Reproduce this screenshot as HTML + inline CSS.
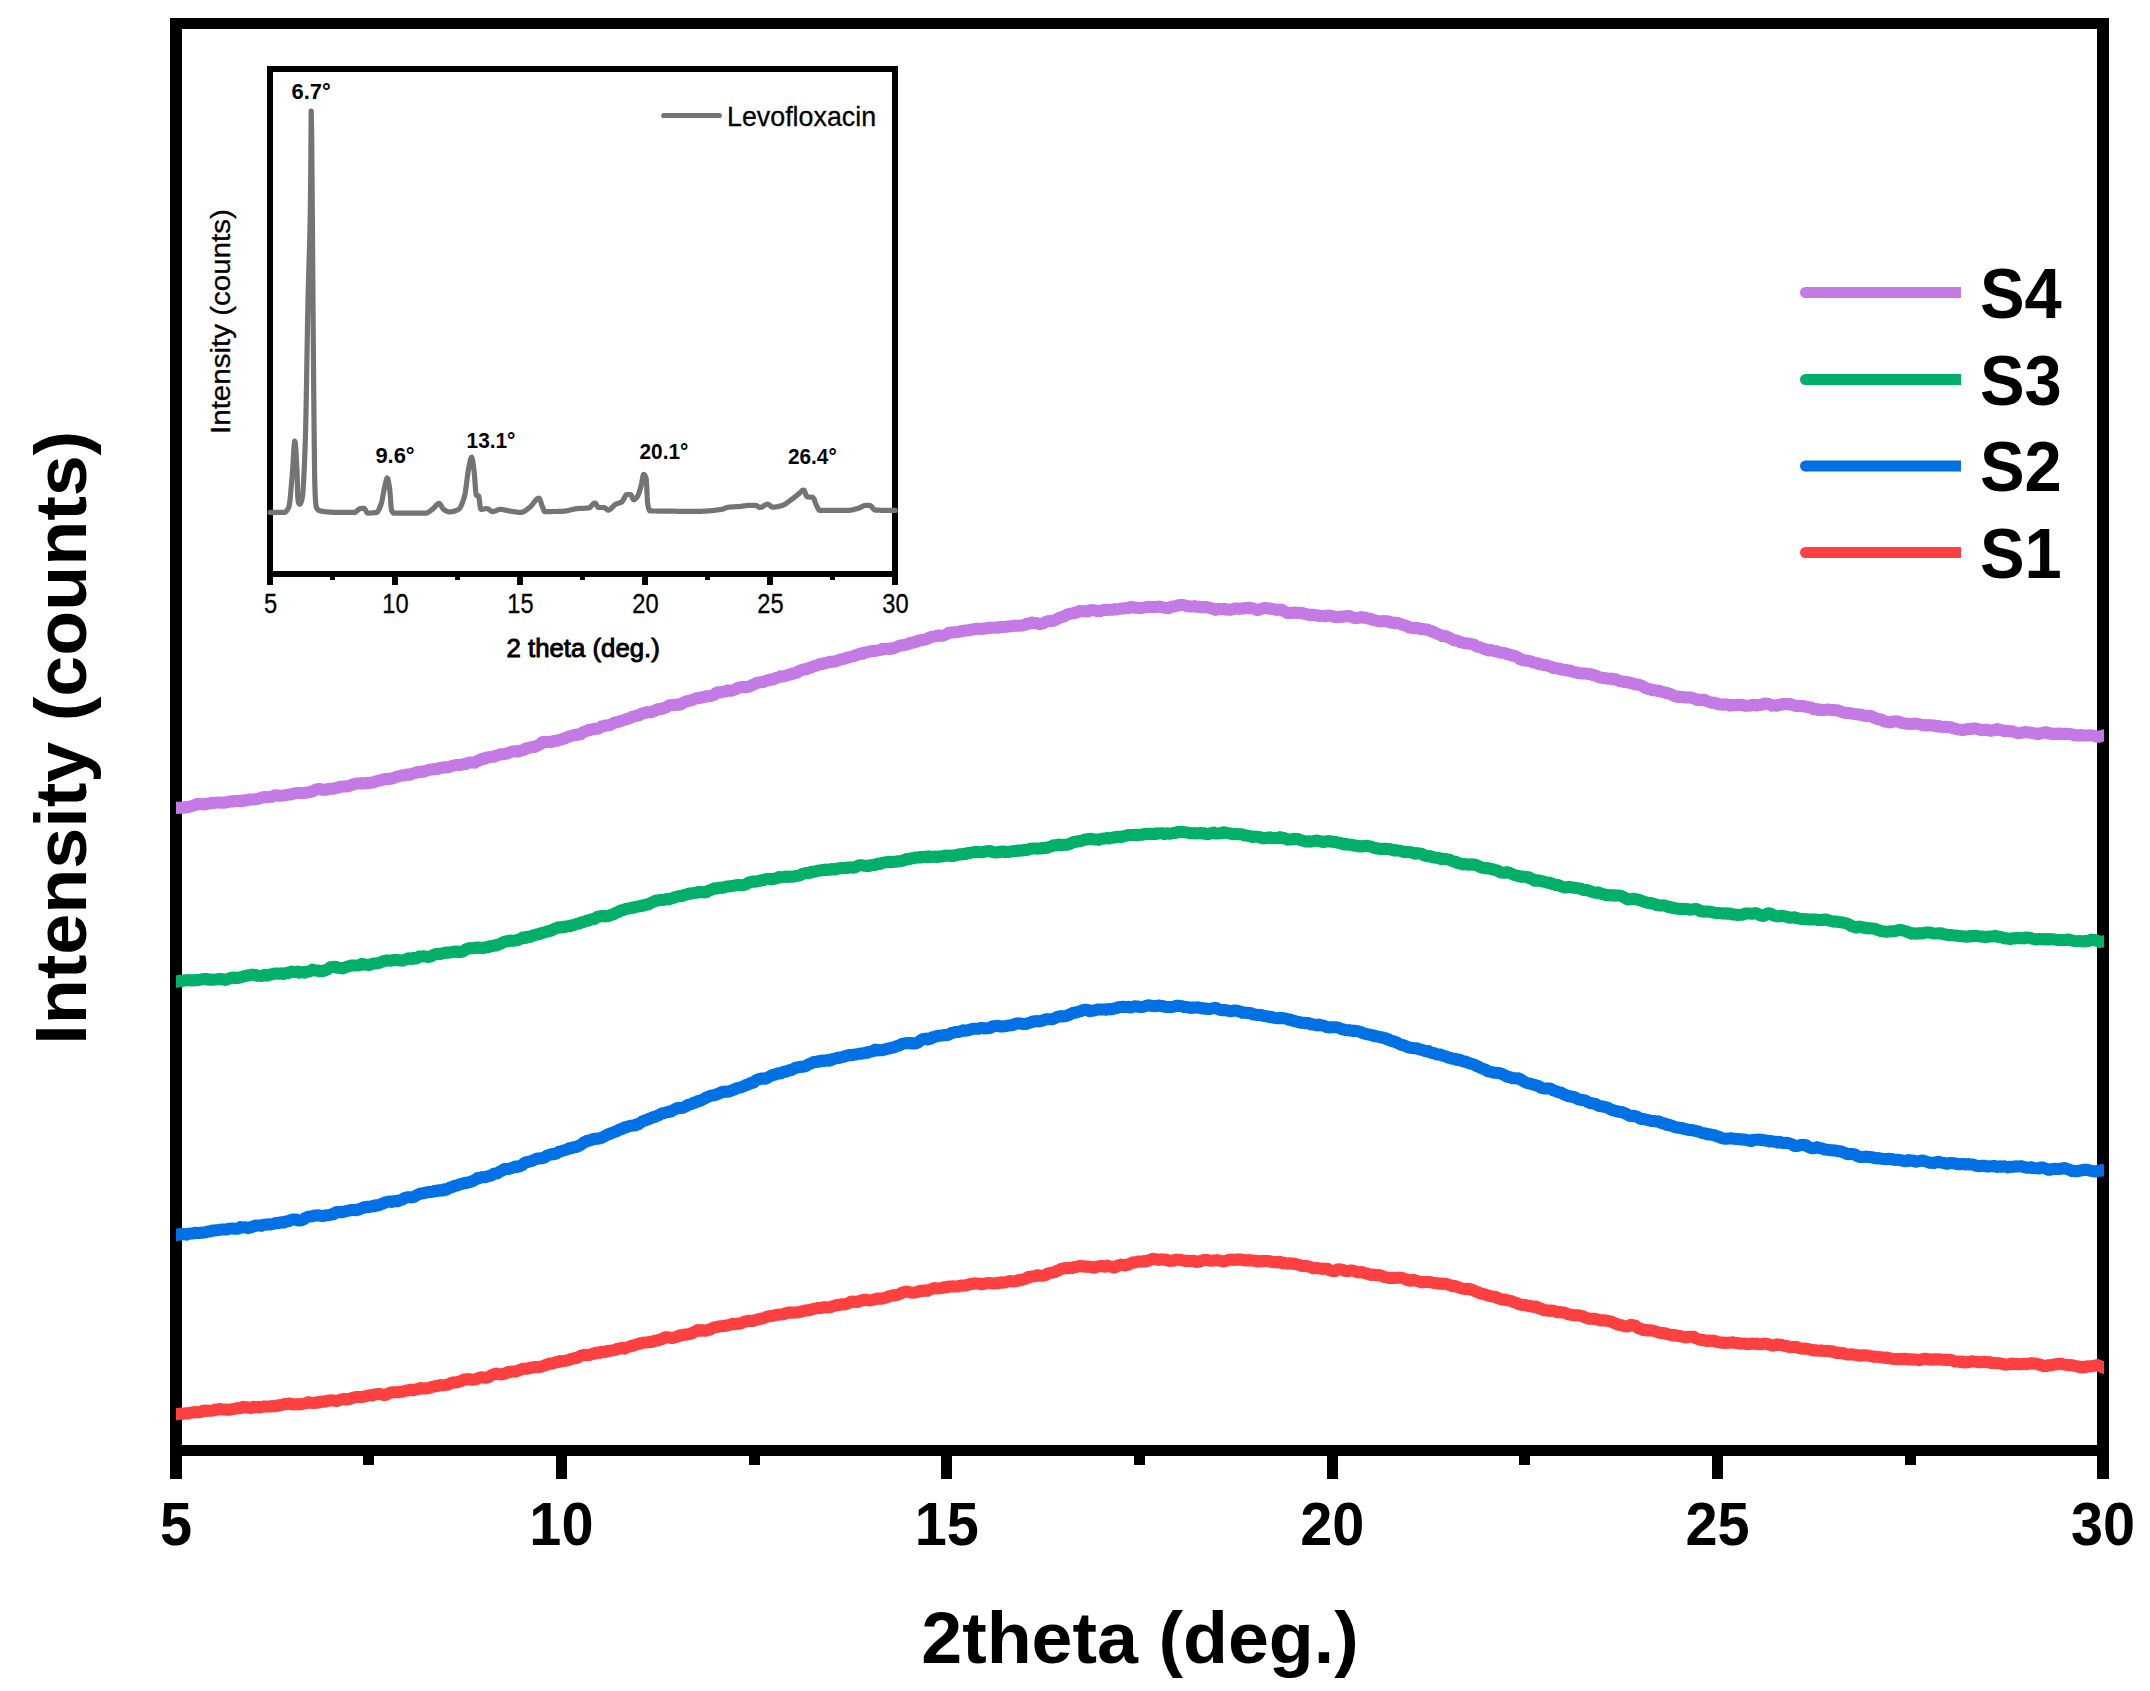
<!DOCTYPE html>
<html lang="en"><head><meta charset="utf-8"><title>XRD patterns</title>
<style>
html,body{margin:0;padding:0;background:#fff;}
body{width:2150px;height:1691px;overflow:hidden;}
svg{display:block;font-family:"Liberation Sans",sans-serif;fill:#000;}
</style></head><body>
<svg width="2150" height="1691" viewBox="0 0 2150 1691">
<rect x="0" y="0" width="2150" height="1691" fill="#fff"/>
<g shape-rendering="crispEdges">
<rect x="170" y="18" width="12" height="1461" fill="#000"/>
<rect x="2097" y="18" width="12" height="1461" fill="#000"/>
<rect x="170" y="18" width="1939" height="11" fill="#000"/>
<rect x="170" y="1445" width="1939" height="11" fill="#000"/>
<rect x="556" y="1456" width="11" height="23" fill="#000"/>
<rect x="941" y="1456" width="11" height="23" fill="#000"/>
<rect x="1327" y="1456" width="11" height="23" fill="#000"/>
<rect x="1712" y="1456" width="11" height="23" fill="#000"/>
<rect x="363" y="1456" width="11" height="9" fill="#000"/>
<rect x="749" y="1456" width="11" height="9" fill="#000"/>
<rect x="1134" y="1456" width="11" height="9" fill="#000"/>
<rect x="1519" y="1456" width="11" height="9" fill="#000"/>
<rect x="1905" y="1456" width="11" height="9" fill="#000"/>
<rect x="267" y="66" width="6" height="519" fill="#000"/>
<rect x="892" y="66" width="6" height="519" fill="#000"/>
<rect x="267" y="66" width="631" height="6" fill="#000"/>
<rect x="267" y="571" width="631" height="6" fill="#000"/>
<rect x="392" y="577" width="6" height="8" fill="#000"/>
<rect x="517" y="577" width="6" height="8" fill="#000"/>
<rect x="642" y="577" width="6" height="8" fill="#000"/>
<rect x="767" y="577" width="6" height="8" fill="#000"/>
<rect x="330" y="577" width="5" height="3" fill="#000"/>
<rect x="455" y="577" width="5" height="3" fill="#000"/>
<rect x="580" y="577" width="5" height="3" fill="#000"/>
<rect x="705" y="577" width="5" height="3" fill="#000"/>
<rect x="830" y="577" width="5" height="3" fill="#000"/>
</g>
<defs><clipPath id="cp"><rect x="176" y="500" width="1928" height="1000"/></clipPath></defs>
<g clip-path="url(#cp)">
<polyline points="170.0,808.3 171.5,808.1 173.0,807.9 174.5,807.7 176.0,807.6 177.5,807.9 179.0,807.8 180.5,807.6 182.0,807.8 183.5,807.7 185.0,807.2 186.5,806.9 188.0,806.9 189.5,806.8 191.0,806.1 192.5,805.8 194.0,805.4 195.5,804.8 197.0,804.0 198.5,804.1 200.0,803.7 201.5,804.1 203.0,804.3 204.5,804.6 206.0,803.8 207.5,803.8 209.0,803.5 210.5,803.3 212.0,802.8 213.5,803.2 215.0,802.9 216.5,802.5 218.0,802.5 219.5,802.6 221.0,802.5 222.5,802.8 224.0,802.7 225.5,802.2 227.0,802.3 228.5,802.1 230.0,801.4 231.5,801.3 233.0,801.6 234.5,800.9 236.0,801.0 237.5,801.1 239.0,800.8 240.5,800.8 242.0,801.2 243.5,800.5 245.0,800.3 246.5,800.4 248.0,799.6 249.5,799.4 251.0,799.5 252.5,799.5 254.0,799.6 255.5,799.3 257.0,798.9 258.5,798.7 260.0,798.3 261.5,797.4 263.0,797.3 264.5,797.0 266.0,797.2 267.5,797.3 269.0,797.0 270.5,796.8 272.0,796.8 273.5,795.9 275.0,795.2 276.5,795.4 278.0,795.7 279.5,795.6 281.0,795.8 282.5,795.6 284.0,795.4 285.5,795.3 287.0,794.8 288.5,794.6 290.0,794.6 291.5,794.4 293.0,793.8 294.5,793.4 296.0,793.3 297.5,792.9 299.0,793.0 300.5,793.0 302.0,793.1 303.5,793.1 305.0,792.9 306.5,792.7 308.0,792.3 309.5,792.3 311.0,791.5 312.5,791.5 314.0,790.5 315.5,789.8 317.0,789.3 318.5,789.2 320.0,789.0 321.5,789.8 323.0,789.9 324.5,789.6 326.0,789.7 327.5,789.6 329.0,788.7 330.5,788.7 332.0,788.8 333.5,788.7 335.0,788.1 336.5,787.9 338.0,787.7 339.5,787.0 341.0,786.7 342.5,786.5 344.0,786.6 345.5,786.4 347.0,786.5 348.5,786.0 350.0,786.0 351.5,784.9 353.0,784.3 354.5,784.2 356.0,783.5 357.5,783.5 359.0,783.4 360.5,783.6 362.0,783.0 363.5,783.6 365.0,783.1 366.5,782.9 368.0,782.8 369.5,783.1 371.0,782.6 372.5,782.3 374.0,782.4 375.5,781.5 377.0,781.1 378.5,780.7 380.0,780.5 381.5,780.0 383.0,779.8 384.5,778.9 386.0,779.1 387.5,778.7 389.0,778.9 390.5,778.8 392.0,778.6 393.5,777.9 395.0,777.5 396.5,776.9 398.0,776.5 399.5,776.3 401.0,775.7 402.5,775.3 404.0,775.4 405.5,775.0 407.0,774.5 408.5,774.7 410.0,774.9 411.5,773.8 413.0,773.6 414.5,773.4 416.0,772.5 417.5,772.0 419.0,772.1 420.5,771.8 422.0,771.5 423.5,771.8 425.0,771.1 426.5,770.8 428.0,770.2 429.5,769.7 431.0,769.6 432.5,769.3 434.0,769.2 435.5,769.1 437.0,769.1 438.5,768.3 440.0,768.3 441.5,767.8 443.0,767.5 444.5,767.3 446.0,767.4 447.5,767.2 449.0,767.0 450.5,766.6 452.0,765.9 453.5,765.6 455.0,765.4 456.5,764.9 458.0,764.9 459.5,765.2 461.0,764.9 462.5,764.5 464.0,764.1 465.5,764.1 467.0,763.2 468.5,762.9 470.0,762.5 471.5,762.6 473.0,762.4 474.5,762.8 476.0,761.9 477.5,761.0 479.0,760.7 480.5,759.6 482.0,758.8 483.5,759.0 485.0,758.7 486.5,757.6 488.0,757.6 489.5,757.3 491.0,756.7 492.5,756.8 494.0,756.8 495.5,755.9 497.0,755.5 498.5,755.0 500.0,754.2 501.5,754.2 503.0,754.2 504.5,754.0 506.0,753.6 507.5,753.5 509.0,752.7 510.5,752.1 512.0,751.7 513.5,751.4 515.0,751.3 516.5,751.2 518.0,751.6 519.5,750.8 521.0,750.9 522.5,750.4 524.0,749.9 525.5,748.5 527.0,748.4 528.5,747.9 530.0,747.5 531.5,747.2 533.0,747.1 534.5,747.1 536.0,746.5 537.5,745.5 539.0,744.9 540.5,744.0 542.0,742.4 543.5,741.8 545.0,742.4 546.5,742.1 548.0,741.9 549.5,742.1 551.0,742.2 552.5,741.4 554.0,741.0 555.5,740.9 557.0,740.7 558.5,740.2 560.0,739.9 561.5,739.5 563.0,738.8 564.5,738.5 566.0,737.6 567.5,737.3 569.0,736.5 570.5,736.3 572.0,735.7 573.5,735.1 575.0,734.8 576.5,735.1 578.0,734.5 579.5,734.2 581.0,734.2 582.5,732.6 584.0,731.8 585.5,731.4 587.0,730.8 588.5,729.9 590.0,730.1 591.5,729.5 593.0,729.3 594.5,728.9 596.0,728.7 597.5,728.7 599.0,728.2 600.5,727.3 602.0,726.2 603.5,726.2 605.0,725.5 606.5,725.4 608.0,725.3 609.5,725.3 611.0,724.5 612.5,723.7 614.0,722.9 615.5,722.3 617.0,722.2 618.5,721.8 620.0,721.4 621.5,720.8 623.0,720.2 624.5,719.8 626.0,719.3 627.5,718.9 629.0,718.5 630.5,717.9 632.0,717.0 633.5,716.7 635.0,716.1 636.5,715.7 638.0,715.5 639.5,715.1 641.0,713.9 642.5,713.5 644.0,712.9 645.5,712.8 647.0,712.1 648.5,712.2 650.0,712.3 651.5,712.0 653.0,711.1 654.5,710.9 656.0,710.3 657.5,709.2 659.0,709.0 660.5,709.2 662.0,708.7 663.5,708.2 665.0,707.7 666.5,707.3 668.0,706.0 669.5,705.3 671.0,705.3 672.5,704.9 674.0,704.7 675.5,705.0 677.0,704.9 678.5,704.3 680.0,704.7 681.5,703.9 683.0,702.9 684.5,702.1 686.0,701.5 687.5,701.0 689.0,700.9 690.5,700.4 692.0,700.1 693.5,699.6 695.0,698.9 696.5,698.2 698.0,698.1 699.5,698.0 701.0,697.7 702.5,697.2 704.0,697.0 705.5,696.5 707.0,696.2 708.5,696.4 710.0,696.2 711.5,695.8 713.0,695.0 714.5,694.6 716.0,693.2 717.5,692.3 719.0,692.2 720.5,692.5 722.0,692.0 723.5,691.7 725.0,691.6 726.5,690.8 728.0,690.4 729.5,690.7 731.0,690.9 732.5,690.4 734.0,689.9 735.5,689.4 737.0,688.3 738.5,687.6 740.0,687.5 741.5,687.1 743.0,687.1 744.5,687.0 746.0,687.2 747.5,686.7 749.0,686.8 750.5,686.0 752.0,685.3 753.5,684.5 755.0,683.9 756.5,682.9 758.0,682.8 759.5,682.4 761.0,682.1 762.5,682.3 764.0,681.8 765.5,681.0 767.0,680.6 768.5,680.3 770.0,679.4 771.5,679.7 773.0,679.6 774.5,678.7 776.0,677.9 777.5,677.8 779.0,677.2 780.5,676.2 782.0,676.4 783.5,676.4 785.0,676.1 786.5,675.4 788.0,675.3 789.5,674.2 791.0,674.3 792.5,673.4 794.0,673.5 795.5,672.9 797.0,672.8 798.5,671.2 800.0,670.7 801.5,670.1 803.0,669.5 804.5,669.3 806.0,669.4 807.5,668.8 809.0,667.9 810.5,667.7 812.0,667.0 813.5,666.3 815.0,665.9 816.5,665.5 818.0,665.0 819.5,664.2 821.0,663.9 822.5,664.0 824.0,663.3 825.5,663.1 827.0,662.9 828.5,662.2 830.0,661.8 831.5,661.7 833.0,661.7 834.5,661.2 836.0,661.2 837.5,660.5 839.0,660.1 840.5,659.4 842.0,659.2 843.5,658.9 845.0,658.5 846.5,658.0 848.0,657.5 849.5,657.1 851.0,656.9 852.5,656.2 854.0,656.2 855.5,655.3 857.0,655.1 858.5,654.2 860.0,653.6 861.5,653.3 863.0,653.7 864.5,652.7 866.0,652.4 867.5,652.3 869.0,651.7 870.5,651.2 872.0,651.1 873.5,650.8 875.0,650.9 876.5,650.7 878.0,650.4 879.5,650.1 881.0,649.7 882.5,648.7 884.0,649.2 885.5,648.7 887.0,648.7 888.5,648.8 890.0,649.0 891.5,648.3 893.0,648.6 894.5,647.9 896.0,647.2 897.5,646.6 899.0,645.9 900.5,645.3 902.0,645.4 903.5,645.2 905.0,644.7 906.5,644.6 908.0,644.4 909.5,643.0 911.0,643.0 912.5,642.7 914.0,642.6 915.5,641.5 917.0,641.8 918.5,640.8 920.0,640.4 921.5,640.0 923.0,640.1 924.5,639.6 926.0,639.4 927.5,638.7 929.0,637.8 930.5,637.1 932.0,636.8 933.5,636.6 935.0,636.4 936.5,636.0 938.0,635.6 939.5,635.6 941.0,635.8 942.5,635.7 944.0,635.2 945.5,634.8 947.0,634.0 948.5,633.0 950.0,632.8 951.5,632.4 953.0,632.4 954.5,632.3 956.0,632.3 957.5,632.1 959.0,631.9 960.5,631.3 962.0,631.1 963.5,630.7 965.0,630.6 966.5,630.6 968.0,630.3 969.5,630.2 971.0,629.8 972.5,629.4 974.0,629.2 975.5,628.8 977.0,628.7 978.5,628.9 980.0,628.9 981.5,628.7 983.0,629.0 984.5,628.6 986.0,628.3 987.5,628.0 989.0,628.0 990.5,627.7 992.0,627.8 993.5,627.8 995.0,627.7 996.5,627.4 998.0,627.7 999.5,627.0 1001.0,627.0 1002.5,626.9 1004.0,626.9 1005.5,626.7 1007.0,626.8 1008.5,626.4 1010.0,626.3 1011.5,626.2 1013.0,626.0 1014.5,625.6 1016.0,625.7 1017.5,625.7 1019.0,625.7 1020.5,625.6 1022.0,625.4 1023.5,625.4 1025.0,624.9 1026.5,623.8 1028.0,623.7 1029.5,623.6 1031.0,622.8 1032.5,622.5 1034.0,623.3 1035.5,622.9 1037.0,623.2 1038.5,623.8 1040.0,624.2 1041.5,623.6 1043.0,623.4 1044.5,622.8 1046.0,621.8 1047.5,621.2 1049.0,621.1 1050.5,620.9 1052.0,621.1 1053.5,620.8 1055.0,620.1 1056.5,619.4 1058.0,618.6 1059.5,617.8 1061.0,617.4 1062.5,616.9 1064.0,616.4 1065.5,615.6 1067.0,614.5 1068.5,614.2 1070.0,613.9 1071.5,613.6 1073.0,613.1 1074.5,613.1 1076.0,612.5 1077.5,612.0 1079.0,611.1 1080.5,611.2 1082.0,611.3 1083.5,611.3 1085.0,611.2 1086.5,611.5 1088.0,611.6 1089.5,610.4 1091.0,610.1 1092.5,610.2 1094.0,610.3 1095.5,610.4 1097.0,611.2 1098.5,611.2 1100.0,611.0 1101.5,610.9 1103.0,610.2 1104.5,609.7 1106.0,609.8 1107.5,610.1 1109.0,609.7 1110.5,609.8 1112.0,609.7 1113.5,609.7 1115.0,609.1 1116.5,609.5 1118.0,609.1 1119.5,608.9 1121.0,608.4 1122.5,608.6 1124.0,608.4 1125.5,608.2 1127.0,607.9 1128.5,608.0 1130.0,607.5 1131.5,606.8 1133.0,607.4 1134.5,607.7 1136.0,607.7 1137.5,607.7 1139.0,608.3 1140.5,607.9 1142.0,608.0 1143.5,607.6 1145.0,607.4 1146.5,607.1 1148.0,607.0 1149.5,606.8 1151.0,607.1 1152.5,607.0 1154.0,606.9 1155.5,606.9 1157.0,606.9 1158.5,606.6 1160.0,606.7 1161.5,606.9 1163.0,607.6 1164.5,607.8 1166.0,607.9 1167.5,608.0 1169.0,608.0 1170.5,607.3 1172.0,606.4 1173.5,606.4 1175.0,606.4 1176.5,605.7 1178.0,605.3 1179.5,605.1 1181.0,605.2 1182.5,604.9 1184.0,605.1 1185.5,605.7 1187.0,606.3 1188.5,606.1 1190.0,606.6 1191.5,606.5 1193.0,606.4 1194.5,606.1 1196.0,606.7 1197.5,606.7 1199.0,606.8 1200.5,607.0 1202.0,607.3 1203.5,607.3 1205.0,607.0 1206.5,607.1 1208.0,607.2 1209.5,608.0 1211.0,608.2 1212.5,608.6 1214.0,609.1 1215.5,609.9 1217.0,609.1 1218.5,608.8 1220.0,609.2 1221.5,609.2 1223.0,608.9 1224.5,608.8 1226.0,609.5 1227.5,609.6 1229.0,609.7 1230.5,609.7 1232.0,609.3 1233.5,609.0 1235.0,608.5 1236.5,608.5 1238.0,608.5 1239.5,609.0 1241.0,608.4 1242.5,608.5 1244.0,608.2 1245.5,608.0 1247.0,608.0 1248.5,608.3 1250.0,607.6 1251.5,608.2 1253.0,608.4 1254.5,608.9 1256.0,609.6 1257.5,610.2 1259.0,609.4 1260.5,609.2 1262.0,608.6 1263.5,608.0 1265.0,608.0 1266.5,608.1 1268.0,608.5 1269.5,608.5 1271.0,608.8 1272.5,608.9 1274.0,609.5 1275.5,609.5 1277.0,609.9 1278.5,609.8 1280.0,609.6 1281.5,609.8 1283.0,610.5 1284.5,611.4 1286.0,612.1 1287.5,613.0 1289.0,613.0 1290.5,613.1 1292.0,612.8 1293.5,612.6 1295.0,612.5 1296.5,613.0 1298.0,612.7 1299.5,612.9 1301.0,612.8 1302.5,613.0 1304.0,613.8 1305.5,614.1 1307.0,614.2 1308.5,614.9 1310.0,615.3 1311.5,614.6 1313.0,614.7 1314.5,615.2 1316.0,615.3 1317.5,615.3 1319.0,616.1 1320.5,616.1 1322.0,616.0 1323.5,615.9 1325.0,616.4 1326.5,615.6 1328.0,615.7 1329.5,615.6 1331.0,616.0 1332.5,615.9 1334.0,616.9 1335.5,616.7 1337.0,617.2 1338.5,617.0 1340.0,616.8 1341.5,616.6 1343.0,616.9 1344.5,616.2 1346.0,616.3 1347.5,616.2 1349.0,615.9 1350.5,616.4 1352.0,617.1 1353.5,617.8 1355.0,618.2 1356.5,618.1 1358.0,617.9 1359.5,617.7 1361.0,617.1 1362.5,617.4 1364.0,617.8 1365.5,617.6 1367.0,618.2 1368.5,618.6 1370.0,618.8 1371.5,619.1 1373.0,620.0 1374.5,620.1 1376.0,620.6 1377.5,620.9 1379.0,621.2 1380.5,621.4 1382.0,621.2 1383.5,621.1 1385.0,621.2 1386.5,621.4 1388.0,621.2 1389.5,622.3 1391.0,622.7 1392.5,622.8 1394.0,622.5 1395.5,623.2 1397.0,623.0 1398.5,623.1 1400.0,623.8 1401.5,624.4 1403.0,625.0 1404.5,625.2 1406.0,625.7 1407.5,626.3 1409.0,627.5 1410.5,627.4 1412.0,627.9 1413.5,628.0 1415.0,628.3 1416.5,627.7 1418.0,628.2 1419.5,628.7 1421.0,629.0 1422.5,628.9 1424.0,629.5 1425.5,629.4 1427.0,629.5 1428.5,630.0 1430.0,630.8 1431.5,631.3 1433.0,631.8 1434.5,632.5 1436.0,633.3 1437.5,633.9 1439.0,634.4 1440.5,635.1 1442.0,635.9 1443.5,636.0 1445.0,636.0 1446.5,636.3 1448.0,637.4 1449.5,637.8 1451.0,638.7 1452.5,639.4 1454.0,640.3 1455.5,640.2 1457.0,640.6 1458.5,641.4 1460.0,642.1 1461.5,642.2 1463.0,642.7 1464.5,643.3 1466.0,643.4 1467.5,643.5 1469.0,643.5 1470.5,643.9 1472.0,644.2 1473.5,644.4 1475.0,645.3 1476.5,646.2 1478.0,646.9 1479.5,647.1 1481.0,647.7 1482.5,648.3 1484.0,648.8 1485.5,649.1 1487.0,649.8 1488.5,650.5 1490.0,650.1 1491.5,650.2 1493.0,650.7 1494.5,651.3 1496.0,651.1 1497.5,651.8 1499.0,652.2 1500.5,652.5 1502.0,652.7 1503.5,652.9 1505.0,653.2 1506.5,654.0 1508.0,654.1 1509.5,654.5 1511.0,655.4 1512.5,655.5 1514.0,655.7 1515.5,656.2 1517.0,657.0 1518.5,657.8 1520.0,659.1 1521.5,659.5 1523.0,660.4 1524.5,660.6 1526.0,660.4 1527.5,660.7 1529.0,660.9 1530.5,661.4 1532.0,661.8 1533.5,662.6 1535.0,662.7 1536.5,663.3 1538.0,663.5 1539.5,664.2 1541.0,664.2 1542.5,664.7 1544.0,665.2 1545.5,665.0 1547.0,665.4 1548.5,666.0 1550.0,666.3 1551.5,666.9 1553.0,668.1 1554.5,668.1 1556.0,668.1 1557.5,668.4 1559.0,669.0 1560.5,668.7 1562.0,669.5 1563.5,669.8 1565.0,669.9 1566.5,670.2 1568.0,670.8 1569.5,670.4 1571.0,670.8 1572.5,671.6 1574.0,671.9 1575.5,672.1 1577.0,672.8 1578.5,673.3 1580.0,673.2 1581.5,673.2 1583.0,673.5 1584.5,673.5 1586.0,673.5 1587.5,673.9 1589.0,674.1 1590.5,674.2 1592.0,674.5 1593.5,675.2 1595.0,675.5 1596.5,675.9 1598.0,676.7 1599.5,677.2 1601.0,677.8 1602.5,677.8 1604.0,678.1 1605.5,677.9 1607.0,678.6 1608.5,678.7 1610.0,678.7 1611.5,678.6 1613.0,679.2 1614.5,679.2 1616.0,679.3 1617.5,680.2 1619.0,680.9 1620.5,681.3 1622.0,681.4 1623.5,681.9 1625.0,681.7 1626.5,682.2 1628.0,682.1 1629.5,682.8 1631.0,682.9 1632.5,683.7 1634.0,684.0 1635.5,684.5 1637.0,684.4 1638.5,684.4 1640.0,685.1 1641.5,685.6 1643.0,686.5 1644.5,687.1 1646.0,688.3 1647.5,688.7 1649.0,689.0 1650.5,689.3 1652.0,690.0 1653.5,690.0 1655.0,690.3 1656.5,690.7 1658.0,691.0 1659.5,690.8 1661.0,691.6 1662.5,691.9 1664.0,692.4 1665.5,692.5 1667.0,693.2 1668.5,693.4 1670.0,693.8 1671.5,694.6 1673.0,695.3 1674.5,696.0 1676.0,696.5 1677.5,696.9 1679.0,696.6 1680.5,697.0 1682.0,696.9 1683.5,697.0 1685.0,697.5 1686.5,697.4 1688.0,697.6 1689.5,697.3 1691.0,697.8 1692.5,698.0 1694.0,698.6 1695.5,699.0 1697.0,700.0 1698.5,699.8 1700.0,699.8 1701.5,700.0 1703.0,699.8 1704.5,699.7 1706.0,700.8 1707.5,701.2 1709.0,701.9 1710.5,702.4 1712.0,702.9 1713.5,702.6 1715.0,703.0 1716.5,703.2 1718.0,704.2 1719.5,704.3 1721.0,704.6 1722.5,704.5 1724.0,704.7 1725.5,704.3 1727.0,704.6 1728.5,704.7 1730.0,705.6 1731.5,705.0 1733.0,705.1 1734.5,705.2 1736.0,705.2 1737.5,704.6 1739.0,705.1 1740.5,704.9 1742.0,704.7 1743.5,705.4 1745.0,705.9 1746.5,705.7 1748.0,705.8 1749.5,705.7 1751.0,705.2 1752.5,704.7 1754.0,704.8 1755.5,705.2 1757.0,705.5 1758.5,705.1 1760.0,705.0 1761.5,704.7 1763.0,704.2 1764.5,703.4 1766.0,703.6 1767.5,703.7 1769.0,704.2 1770.5,704.9 1772.0,705.8 1773.5,705.2 1775.0,705.6 1776.5,705.8 1778.0,705.1 1779.5,704.5 1781.0,704.8 1782.5,704.1 1784.0,704.2 1785.5,703.8 1787.0,703.9 1788.5,704.0 1790.0,704.5 1791.5,704.3 1793.0,705.1 1794.5,705.6 1796.0,706.1 1797.5,705.8 1799.0,706.0 1800.5,705.9 1802.0,706.2 1803.5,706.1 1805.0,706.7 1806.5,706.7 1808.0,707.2 1809.5,707.5 1811.0,707.4 1812.5,708.4 1814.0,709.3 1815.5,708.9 1817.0,709.1 1818.5,710.1 1820.0,710.0 1821.5,709.6 1823.0,710.1 1824.5,710.1 1826.0,709.6 1827.5,709.4 1829.0,709.7 1830.5,709.9 1832.0,710.1 1833.5,710.1 1835.0,710.4 1836.5,710.2 1838.0,710.5 1839.5,711.1 1841.0,711.7 1842.5,712.1 1844.0,712.7 1845.5,713.0 1847.0,712.9 1848.5,713.0 1850.0,713.3 1851.5,713.2 1853.0,713.8 1854.5,714.1 1856.0,714.3 1857.5,714.3 1859.0,714.7 1860.5,714.7 1862.0,714.8 1863.5,715.7 1865.0,715.9 1866.5,715.8 1868.0,715.9 1869.5,715.9 1871.0,715.9 1872.5,716.7 1874.0,717.8 1875.5,718.0 1877.0,718.6 1878.5,719.4 1880.0,719.5 1881.5,719.6 1883.0,720.5 1884.5,721.6 1886.0,721.7 1887.5,721.9 1889.0,722.3 1890.5,722.4 1892.0,721.8 1893.5,721.4 1895.0,721.6 1896.5,721.4 1898.0,721.5 1899.5,721.9 1901.0,723.0 1902.5,723.0 1904.0,723.4 1905.5,723.6 1907.0,723.9 1908.5,723.7 1910.0,724.0 1911.5,724.0 1913.0,723.8 1914.5,723.6 1916.0,723.6 1917.5,723.9 1919.0,724.1 1920.5,724.6 1922.0,725.0 1923.5,725.2 1925.0,725.1 1926.5,725.5 1928.0,725.3 1929.5,725.1 1931.0,725.6 1932.5,725.3 1934.0,725.4 1935.5,726.1 1937.0,726.5 1938.5,725.9 1940.0,726.7 1941.5,726.9 1943.0,726.9 1944.5,726.7 1946.0,727.0 1947.5,726.9 1949.0,726.9 1950.5,727.1 1952.0,727.9 1953.5,728.3 1955.0,728.5 1956.5,729.0 1958.0,729.4 1959.5,729.6 1961.0,729.8 1962.5,730.0 1964.0,729.8 1965.5,729.8 1967.0,729.2 1968.5,729.0 1970.0,729.0 1971.5,729.0 1973.0,728.4 1974.5,728.6 1976.0,728.6 1977.5,729.0 1979.0,729.4 1980.5,730.0 1982.0,730.2 1983.5,730.0 1985.0,730.0 1986.5,729.7 1988.0,729.9 1989.5,730.5 1991.0,730.8 1992.5,730.4 1994.0,730.3 1995.5,729.8 1997.0,729.0 1998.5,729.5 2000.0,730.0 2001.5,729.9 2003.0,730.6 2004.5,731.3 2006.0,731.0 2007.5,730.8 2009.0,731.2 2010.5,731.2 2012.0,731.2 2013.5,731.7 2015.0,732.3 2016.5,732.8 2018.0,733.2 2019.5,733.3 2021.0,732.7 2022.5,732.5 2024.0,732.4 2025.5,732.0 2027.0,732.2 2028.5,732.6 2030.0,732.5 2031.5,732.9 2033.0,733.3 2034.5,733.2 2036.0,733.6 2037.5,734.2 2039.0,734.0 2040.5,733.3 2042.0,733.1 2043.5,732.8 2045.0,732.3 2046.5,732.3 2048.0,733.3 2049.5,733.5 2051.0,733.3 2052.5,734.2 2054.0,734.1 2055.5,733.4 2057.0,733.7 2058.5,734.1 2060.0,733.5 2061.5,733.8 2063.0,734.1 2064.5,733.8 2066.0,733.8 2067.5,734.2 2069.0,733.9 2070.5,734.1 2072.0,734.4 2073.5,735.2 2075.0,734.8 2076.5,735.4 2078.0,735.4 2079.5,735.4 2081.0,734.9 2082.5,735.4 2084.0,735.5 2085.5,735.6 2087.0,735.6 2088.5,735.3 2090.0,735.3 2091.5,735.2 2093.0,735.6 2094.5,735.9 2096.0,736.5 2097.5,736.8 2099.0,736.8 2100.5,736.1 2102.0,735.8 2103.5,735.2 2105.0,735.3 2106.5,735.0 2108.0,735.4 2109.5,735.7" fill="none" stroke="#C37AE4" stroke-width="12" stroke-linejoin="round"/>
<polyline points="170.0,982.0 171.5,982.2 173.0,982.2 174.5,981.8 176.0,981.7 177.5,981.2 179.0,980.7 180.5,980.7 182.0,981.1 183.5,980.6 185.0,980.5 186.5,980.3 188.0,980.3 189.5,980.0 191.0,980.4 192.5,980.5 194.0,980.2 195.5,980.4 197.0,979.9 198.5,980.0 200.0,979.8 201.5,979.4 203.0,978.9 204.5,979.0 206.0,979.2 207.5,979.1 209.0,979.8 210.5,979.5 212.0,979.8 213.5,979.7 215.0,979.6 216.5,979.4 218.0,979.2 219.5,979.0 221.0,979.1 222.5,979.2 224.0,979.5 225.5,980.0 227.0,979.4 228.5,978.9 230.0,978.3 231.5,977.8 233.0,977.6 234.5,978.0 236.0,977.7 237.5,978.0 239.0,977.8 240.5,977.2 242.0,976.9 243.5,976.5 245.0,975.9 246.5,975.6 248.0,975.7 249.5,975.1 251.0,974.8 252.5,974.6 254.0,974.9 255.5,975.0 257.0,975.9 258.5,975.7 260.0,975.9 261.5,975.9 263.0,975.6 264.5,974.9 266.0,975.6 267.5,975.5 269.0,974.8 270.5,974.4 272.0,974.5 273.5,973.9 275.0,973.5 276.5,973.4 278.0,973.8 279.5,973.7 281.0,973.3 282.5,973.7 284.0,974.0 285.5,973.2 287.0,972.8 288.5,972.9 290.0,972.5 291.5,971.6 293.0,971.8 294.5,972.0 296.0,972.1 297.5,971.6 299.0,972.7 300.5,972.3 302.0,972.2 303.5,972.0 305.0,972.7 306.5,971.8 308.0,971.7 309.5,971.4 311.0,970.7 312.5,969.6 314.0,970.2 315.5,970.5 317.0,970.7 318.5,970.5 320.0,971.4 321.5,970.9 323.0,971.0 324.5,970.3 326.0,970.0 327.5,969.4 329.0,968.2 330.5,967.2 332.0,967.0 333.5,966.9 335.0,966.7 336.5,967.1 338.0,967.9 339.5,968.1 341.0,968.2 342.5,968.4 344.0,968.0 345.5,967.2 347.0,966.9 348.5,966.4 350.0,965.8 351.5,965.5 353.0,965.4 354.5,965.5 356.0,965.4 357.5,965.4 359.0,965.3 360.5,964.8 362.0,963.8 363.5,964.2 365.0,964.6 366.5,964.8 368.0,964.7 369.5,965.0 371.0,964.4 372.5,963.8 374.0,963.5 375.5,963.6 377.0,963.4 378.5,963.1 380.0,962.6 381.5,961.9 383.0,961.5 384.5,960.8 386.0,960.7 387.5,960.3 389.0,960.6 390.5,960.7 392.0,960.5 393.5,960.1 395.0,959.9 396.5,959.9 398.0,960.0 399.5,960.4 401.0,960.4 402.5,960.8 404.0,960.0 405.5,959.7 407.0,959.1 408.5,958.3 410.0,958.4 411.5,959.0 413.0,958.1 414.5,958.1 416.0,958.6 417.5,957.7 419.0,956.6 420.5,956.5 422.0,956.4 423.5,956.3 425.0,956.4 426.5,956.6 428.0,957.1 429.5,956.6 431.0,956.4 432.5,955.3 434.0,954.7 435.5,954.2 437.0,953.9 438.5,953.8 440.0,954.0 441.5,953.8 443.0,953.2 444.5,953.0 446.0,952.5 447.5,952.5 449.0,952.7 450.5,952.4 452.0,952.0 453.5,952.0 455.0,951.5 456.5,951.4 458.0,952.0 459.5,952.2 461.0,951.9 462.5,951.6 464.0,950.8 465.5,949.6 467.0,948.8 468.5,948.5 470.0,948.1 471.5,948.3 473.0,948.2 474.5,948.1 476.0,947.6 477.5,947.9 479.0,947.6 480.5,947.9 482.0,947.8 483.5,948.3 485.0,947.5 486.5,947.3 488.0,947.2 489.5,946.4 491.0,946.0 492.5,946.2 494.0,945.8 495.5,945.0 497.0,945.4 498.5,944.5 500.0,943.9 501.5,943.2 503.0,942.5 504.5,941.6 506.0,941.4 507.5,941.0 509.0,941.0 510.5,940.5 512.0,940.8 513.5,940.8 515.0,940.6 516.5,940.0 518.0,940.0 519.5,939.3 521.0,938.7 522.5,937.6 524.0,937.6 525.5,938.0 527.0,937.0 528.5,936.7 530.0,936.9 531.5,936.3 533.0,935.5 534.5,935.2 536.0,934.6 537.5,934.5 539.0,934.1 540.5,933.2 542.0,933.2 543.5,932.6 545.0,932.2 546.5,931.6 548.0,931.6 549.5,930.8 551.0,930.7 552.5,929.9 554.0,929.0 555.5,928.4 557.0,928.0 558.5,927.3 560.0,927.4 561.5,927.4 563.0,926.7 564.5,927.0 566.0,926.8 567.5,926.3 569.0,926.3 570.5,926.0 572.0,925.2 573.5,925.1 575.0,924.5 576.5,924.0 578.0,923.8 579.5,923.4 581.0,922.5 582.5,922.3 584.0,921.9 585.5,921.2 587.0,920.6 588.5,920.6 590.0,919.8 591.5,919.4 593.0,919.1 594.5,918.8 596.0,917.7 597.5,916.7 599.0,916.6 600.5,916.2 602.0,915.9 603.5,916.3 605.0,916.4 606.5,915.8 608.0,916.1 609.5,915.7 611.0,914.9 612.5,914.5 614.0,914.2 615.5,912.9 617.0,912.4 618.5,912.0 620.0,910.9 621.5,910.3 623.0,910.1 624.5,909.5 626.0,908.7 627.5,908.8 629.0,908.4 630.5,908.1 632.0,907.5 633.5,907.8 635.0,907.1 636.5,906.7 638.0,906.6 639.5,906.3 641.0,905.6 642.5,905.9 644.0,905.4 645.5,904.6 647.0,904.4 648.5,904.5 650.0,903.2 651.5,902.6 653.0,902.0 654.5,901.3 656.0,900.4 657.5,900.4 659.0,900.3 660.5,899.9 662.0,899.9 663.5,899.9 665.0,899.5 666.5,899.1 668.0,899.4 669.5,899.1 671.0,898.4 672.5,898.3 674.0,897.6 675.5,896.9 677.0,896.7 678.5,896.3 680.0,895.9 681.5,896.1 683.0,895.5 684.5,895.0 686.0,894.6 687.5,894.1 689.0,893.4 690.5,893.8 692.0,893.3 693.5,893.2 695.0,892.9 696.5,892.7 698.0,892.0 699.5,891.9 701.0,892.3 702.5,892.2 704.0,892.4 705.5,892.0 707.0,891.9 708.5,890.6 710.0,890.3 711.5,889.6 713.0,889.2 714.5,888.2 716.0,888.6 717.5,888.2 719.0,887.9 720.5,887.6 722.0,887.9 723.5,887.5 725.0,887.0 726.5,886.6 728.0,886.5 729.5,886.4 731.0,885.9 732.5,885.9 734.0,885.7 735.5,885.3 737.0,885.3 738.5,884.9 740.0,885.2 741.5,885.4 743.0,885.1 744.5,884.7 746.0,884.4 747.5,883.2 749.0,882.4 750.5,882.2 752.0,881.6 753.5,881.6 755.0,881.8 756.5,881.3 758.0,881.3 759.5,880.8 761.0,880.5 762.5,880.0 764.0,880.0 765.5,879.3 767.0,879.1 768.5,879.0 770.0,879.0 771.5,879.2 773.0,879.0 774.5,878.8 776.0,878.3 777.5,878.0 779.0,877.0 780.5,877.3 782.0,877.1 783.5,876.9 785.0,876.6 786.5,877.1 788.0,876.6 789.5,876.7 791.0,876.7 792.5,876.7 794.0,876.5 795.5,876.1 797.0,875.9 798.5,875.7 800.0,875.1 801.5,874.3 803.0,873.9 804.5,873.5 806.0,872.9 807.5,872.8 809.0,872.9 810.5,872.8 812.0,871.7 813.5,871.8 815.0,871.6 816.5,871.0 818.0,870.8 819.5,870.5 821.0,870.5 822.5,869.9 824.0,870.1 825.5,869.4 827.0,870.0 828.5,869.6 830.0,869.8 831.5,869.1 833.0,869.2 834.5,869.5 836.0,869.1 837.5,868.5 839.0,868.5 840.5,868.2 842.0,867.7 843.5,868.3 845.0,868.1 846.5,867.5 848.0,867.9 849.5,867.7 851.0,867.3 852.5,867.6 854.0,867.7 855.5,867.1 857.0,866.3 858.5,865.5 860.0,865.3 861.5,865.1 863.0,865.6 864.5,865.8 866.0,865.9 867.5,865.6 869.0,866.1 870.5,865.4 872.0,864.9 873.5,865.0 875.0,864.9 876.5,864.1 878.0,863.5 879.5,864.0 881.0,863.7 882.5,862.8 884.0,862.6 885.5,862.4 887.0,862.0 888.5,861.8 890.0,862.2 891.5,862.3 893.0,861.9 894.5,861.7 896.0,861.7 897.5,861.3 899.0,861.2 900.5,861.3 902.0,860.7 903.5,860.5 905.0,859.9 906.5,858.9 908.0,859.1 909.5,859.0 911.0,858.5 912.5,858.2 914.0,858.2 915.5,857.5 917.0,857.4 918.5,857.4 920.0,857.0 921.5,857.4 923.0,857.2 924.5,856.8 926.0,856.7 927.5,857.2 929.0,856.4 930.5,857.1 932.0,856.9 933.5,856.7 935.0,856.6 936.5,857.2 938.0,856.4 939.5,856.8 941.0,856.4 942.5,856.5 944.0,855.7 945.5,855.6 947.0,855.7 948.5,855.8 950.0,855.4 951.5,856.1 953.0,856.1 954.5,855.2 956.0,855.2 957.5,854.7 959.0,854.3 960.5,854.4 962.0,854.3 963.5,853.8 965.0,854.1 966.5,853.7 968.0,852.9 969.5,853.1 971.0,852.6 972.5,852.4 974.0,852.1 975.5,852.2 977.0,852.0 978.5,852.2 980.0,852.3 981.5,852.3 983.0,852.1 984.5,851.6 986.0,851.5 987.5,851.3 989.0,851.0 990.5,851.1 992.0,851.7 993.5,852.2 995.0,852.4 996.5,852.5 998.0,852.1 999.5,852.0 1001.0,851.7 1002.5,851.5 1004.0,851.5 1005.5,852.0 1007.0,851.9 1008.5,851.9 1010.0,851.6 1011.5,851.6 1013.0,851.2 1014.5,850.9 1016.0,850.9 1017.5,850.5 1019.0,850.7 1020.5,850.5 1022.0,850.6 1023.5,850.1 1025.0,850.1 1026.5,850.0 1028.0,849.8 1029.5,849.0 1031.0,848.7 1032.5,848.6 1034.0,848.4 1035.5,848.4 1037.0,848.8 1038.5,848.6 1040.0,848.6 1041.5,848.0 1043.0,848.3 1044.5,847.7 1046.0,847.9 1047.5,847.7 1049.0,847.1 1050.5,846.4 1052.0,846.3 1053.5,845.3 1055.0,845.2 1056.5,845.4 1058.0,845.0 1059.5,844.5 1061.0,845.3 1062.5,844.9 1064.0,844.7 1065.5,844.9 1067.0,844.7 1068.5,844.2 1070.0,843.7 1071.5,843.0 1073.0,842.2 1074.5,842.0 1076.0,841.8 1077.5,841.5 1079.0,841.2 1080.5,840.9 1082.0,840.8 1083.5,840.0 1085.0,839.6 1086.5,839.5 1088.0,839.2 1089.5,838.9 1091.0,838.8 1092.5,839.3 1094.0,839.4 1095.5,839.5 1097.0,839.4 1098.5,840.0 1100.0,839.4 1101.5,838.8 1103.0,838.6 1104.5,838.6 1106.0,838.2 1107.5,838.0 1109.0,838.4 1110.5,838.0 1112.0,837.9 1113.5,837.2 1115.0,837.5 1116.5,836.7 1118.0,836.8 1119.5,836.8 1121.0,837.3 1122.5,836.4 1124.0,836.2 1125.5,835.8 1127.0,835.5 1128.5,835.0 1130.0,835.1 1131.5,834.9 1133.0,835.1 1134.5,834.7 1136.0,834.8 1137.5,835.2 1139.0,834.7 1140.5,834.7 1142.0,834.7 1143.5,834.5 1145.0,833.8 1146.5,834.1 1148.0,833.8 1149.5,834.0 1151.0,833.8 1152.5,833.9 1154.0,833.9 1155.5,834.0 1157.0,833.3 1158.5,833.4 1160.0,833.4 1161.5,833.2 1163.0,833.5 1164.5,834.1 1166.0,833.6 1167.5,833.3 1169.0,833.7 1170.5,833.8 1172.0,833.2 1173.5,833.1 1175.0,833.1 1176.5,832.6 1178.0,831.8 1179.5,832.0 1181.0,831.9 1182.5,831.8 1184.0,832.2 1185.5,832.4 1187.0,832.4 1188.5,832.9 1190.0,833.4 1191.5,833.1 1193.0,833.3 1194.5,833.1 1196.0,833.4 1197.5,833.3 1199.0,833.1 1200.5,833.1 1202.0,833.5 1203.5,833.2 1205.0,833.5 1206.5,834.2 1208.0,834.0 1209.5,833.8 1211.0,833.3 1212.5,832.9 1214.0,832.6 1215.5,833.5 1217.0,833.6 1218.5,833.5 1220.0,833.3 1221.5,833.3 1223.0,832.4 1224.5,832.2 1226.0,832.8 1227.5,833.2 1229.0,833.3 1230.5,833.5 1232.0,834.1 1233.5,834.2 1235.0,834.1 1236.5,834.0 1238.0,834.2 1239.5,834.3 1241.0,834.2 1242.5,834.5 1244.0,835.2 1245.5,835.5 1247.0,835.6 1248.5,835.9 1250.0,836.4 1251.5,836.7 1253.0,837.0 1254.5,836.6 1256.0,836.8 1257.5,836.8 1259.0,837.1 1260.5,837.2 1262.0,838.2 1263.5,838.4 1265.0,838.2 1266.5,837.8 1268.0,838.0 1269.5,837.3 1271.0,837.8 1272.5,838.3 1274.0,838.1 1275.5,837.7 1277.0,838.3 1278.5,838.0 1280.0,837.1 1281.5,837.7 1283.0,838.2 1284.5,838.1 1286.0,838.9 1287.5,839.7 1289.0,839.4 1290.5,839.5 1292.0,839.4 1293.5,838.7 1295.0,838.9 1296.5,839.0 1298.0,839.0 1299.5,839.8 1301.0,840.4 1302.5,840.6 1304.0,841.0 1305.5,841.4 1307.0,841.4 1308.5,841.3 1310.0,841.7 1311.5,841.4 1313.0,841.3 1314.5,840.7 1316.0,840.7 1317.5,840.5 1319.0,841.3 1320.5,841.3 1322.0,841.8 1323.5,842.0 1325.0,841.8 1326.5,841.2 1328.0,841.5 1329.5,841.2 1331.0,841.5 1332.5,841.9 1334.0,842.2 1335.5,842.0 1337.0,842.3 1338.5,842.9 1340.0,842.7 1341.5,843.4 1343.0,844.0 1344.5,844.5 1346.0,843.8 1347.5,844.6 1349.0,844.8 1350.5,844.6 1352.0,844.8 1353.5,845.5 1355.0,845.5 1356.5,845.8 1358.0,846.0 1359.5,846.4 1361.0,846.0 1362.5,846.6 1364.0,846.1 1365.5,845.8 1367.0,845.8 1368.5,846.3 1370.0,846.4 1371.5,846.7 1373.0,847.5 1374.5,847.9 1376.0,848.5 1377.5,848.2 1379.0,848.7 1380.5,849.1 1382.0,849.0 1383.5,848.8 1385.0,849.0 1386.5,848.7 1388.0,849.1 1389.5,849.0 1391.0,849.5 1392.5,850.0 1394.0,850.4 1395.5,850.1 1397.0,850.6 1398.5,850.6 1400.0,850.8 1401.5,851.1 1403.0,851.8 1404.5,852.0 1406.0,852.2 1407.5,851.8 1409.0,852.1 1410.5,852.2 1412.0,852.5 1413.5,853.0 1415.0,853.8 1416.5,853.1 1418.0,853.4 1419.5,853.4 1421.0,853.6 1422.5,854.4 1424.0,855.3 1425.5,855.6 1427.0,856.2 1428.5,856.3 1430.0,856.1 1431.5,856.9 1433.0,857.0 1434.5,857.8 1436.0,857.7 1437.5,857.9 1439.0,858.2 1440.5,859.0 1442.0,858.6 1443.5,859.0 1445.0,859.1 1446.5,859.1 1448.0,859.6 1449.5,859.8 1451.0,860.5 1452.5,861.1 1454.0,861.6 1455.5,861.7 1457.0,862.8 1458.5,863.1 1460.0,863.5 1461.5,863.8 1463.0,864.5 1464.5,863.9 1466.0,864.5 1467.5,864.5 1469.0,864.7 1470.5,864.3 1472.0,864.6 1473.5,864.5 1475.0,864.8 1476.5,865.3 1478.0,865.6 1479.5,866.8 1481.0,867.3 1482.5,867.8 1484.0,867.9 1485.5,868.4 1487.0,868.1 1488.5,868.2 1490.0,868.6 1491.5,869.1 1493.0,869.3 1494.5,869.9 1496.0,870.2 1497.5,870.6 1499.0,871.5 1500.5,872.4 1502.0,872.7 1503.5,872.8 1505.0,872.8 1506.5,872.1 1508.0,872.5 1509.5,872.7 1511.0,873.5 1512.5,874.1 1514.0,874.9 1515.5,875.4 1517.0,875.8 1518.5,876.0 1520.0,876.3 1521.5,876.9 1523.0,876.6 1524.5,876.8 1526.0,876.9 1527.5,877.1 1529.0,877.3 1530.5,878.6 1532.0,879.0 1533.5,880.0 1535.0,880.7 1536.5,880.7 1538.0,880.2 1539.5,880.8 1541.0,880.7 1542.5,881.5 1544.0,881.6 1545.5,882.1 1547.0,882.6 1548.5,882.9 1550.0,882.8 1551.5,883.8 1553.0,884.1 1554.5,884.5 1556.0,885.1 1557.5,884.9 1559.0,885.3 1560.5,886.2 1562.0,886.7 1563.5,887.1 1565.0,887.6 1566.5,887.4 1568.0,886.9 1569.5,886.8 1571.0,887.1 1572.5,887.5 1574.0,887.8 1575.5,887.8 1577.0,888.2 1578.5,888.3 1580.0,888.6 1581.5,888.7 1583.0,890.0 1584.5,890.0 1586.0,889.9 1587.5,890.2 1589.0,890.9 1590.5,891.3 1592.0,891.9 1593.5,892.3 1595.0,892.7 1596.5,892.9 1598.0,892.3 1599.5,892.9 1601.0,893.7 1602.5,894.1 1604.0,894.3 1605.5,895.0 1607.0,895.3 1608.5,894.9 1610.0,895.5 1611.5,895.5 1613.0,895.3 1614.5,895.2 1616.0,895.7 1617.5,895.4 1619.0,895.4 1620.5,895.6 1622.0,896.3 1623.5,897.1 1625.0,897.9 1626.5,899.0 1628.0,899.4 1629.5,899.3 1631.0,899.2 1632.5,899.0 1634.0,898.8 1635.5,899.3 1637.0,899.6 1638.5,899.6 1640.0,900.3 1641.5,900.8 1643.0,901.4 1644.5,901.9 1646.0,902.4 1647.5,902.7 1649.0,903.1 1650.5,903.0 1652.0,903.2 1653.5,903.8 1655.0,904.3 1656.5,905.0 1658.0,905.0 1659.5,905.4 1661.0,905.4 1662.5,905.5 1664.0,905.3 1665.5,905.9 1667.0,906.5 1668.5,907.0 1670.0,906.8 1671.5,907.6 1673.0,908.2 1674.5,908.0 1676.0,908.4 1677.5,908.8 1679.0,908.9 1680.5,908.8 1682.0,908.9 1683.5,908.8 1685.0,909.0 1686.5,908.9 1688.0,909.2 1689.5,909.6 1691.0,909.8 1692.5,909.2 1694.0,909.3 1695.5,908.9 1697.0,909.2 1698.5,909.8 1700.0,911.0 1701.5,911.1 1703.0,911.7 1704.5,911.7 1706.0,911.4 1707.5,911.4 1709.0,911.4 1710.5,911.9 1712.0,912.0 1713.5,912.6 1715.0,912.8 1716.5,913.2 1718.0,912.9 1719.5,913.2 1721.0,913.2 1722.5,913.5 1724.0,913.4 1725.5,913.3 1727.0,913.7 1728.5,913.5 1730.0,913.4 1731.5,914.0 1733.0,914.6 1734.5,914.4 1736.0,914.4 1737.5,915.2 1739.0,914.9 1740.5,914.8 1742.0,914.7 1743.5,914.5 1745.0,913.5 1746.5,913.5 1748.0,913.5 1749.5,913.6 1751.0,913.7 1752.5,913.7 1754.0,913.5 1755.5,913.1 1757.0,913.4 1758.5,914.1 1760.0,915.3 1761.5,915.7 1763.0,916.0 1764.5,915.6 1766.0,914.4 1767.5,913.5 1769.0,913.3 1770.5,913.8 1772.0,914.3 1773.5,915.5 1775.0,915.8 1776.5,916.2 1778.0,916.4 1779.5,916.1 1781.0,916.0 1782.5,915.8 1784.0,916.2 1785.5,916.4 1787.0,917.1 1788.5,917.1 1790.0,917.8 1791.5,917.5 1793.0,917.4 1794.5,917.3 1796.0,918.0 1797.5,918.1 1799.0,918.6 1800.5,918.8 1802.0,919.0 1803.5,919.0 1805.0,919.1 1806.5,919.3 1808.0,919.3 1809.5,919.6 1811.0,919.6 1812.5,919.5 1814.0,919.6 1815.5,919.5 1817.0,919.7 1818.5,920.1 1820.0,920.1 1821.5,919.7 1823.0,920.0 1824.5,919.7 1826.0,919.4 1827.5,920.2 1829.0,920.5 1830.5,920.9 1832.0,921.1 1833.5,921.7 1835.0,921.4 1836.5,921.7 1838.0,921.9 1839.5,922.2 1841.0,922.3 1842.5,922.4 1844.0,922.9 1845.5,923.2 1847.0,923.6 1848.5,924.1 1850.0,925.0 1851.5,926.2 1853.0,926.4 1854.5,927.0 1856.0,927.6 1857.5,927.0 1859.0,926.6 1860.5,926.8 1862.0,927.3 1863.5,927.3 1865.0,928.0 1866.5,928.1 1868.0,928.5 1869.5,928.2 1871.0,928.4 1872.5,928.4 1874.0,928.6 1875.5,928.9 1877.0,929.8 1878.5,930.1 1880.0,930.7 1881.5,931.2 1883.0,931.4 1884.5,931.5 1886.0,931.7 1887.5,931.7 1889.0,931.6 1890.5,931.5 1892.0,931.3 1893.5,931.2 1895.0,931.1 1896.5,930.6 1898.0,930.5 1899.5,929.9 1901.0,930.0 1902.5,930.4 1904.0,930.6 1905.5,931.1 1907.0,932.0 1908.5,932.1 1910.0,932.7 1911.5,933.7 1913.0,933.3 1914.5,933.5 1916.0,933.7 1917.5,933.5 1919.0,933.3 1920.5,933.5 1922.0,933.2 1923.5,933.0 1925.0,932.7 1926.5,932.6 1928.0,932.5 1929.5,932.4 1931.0,932.9 1932.5,933.2 1934.0,933.4 1935.5,933.4 1937.0,933.6 1938.5,933.3 1940.0,933.5 1941.5,933.3 1943.0,934.1 1944.5,934.4 1946.0,934.7 1947.5,934.7 1949.0,935.2 1950.5,934.9 1952.0,935.3 1953.5,935.5 1955.0,935.6 1956.5,935.5 1958.0,935.9 1959.5,935.9 1961.0,936.1 1962.5,936.3 1964.0,936.6 1965.5,936.6 1967.0,936.7 1968.5,936.5 1970.0,936.0 1971.5,936.2 1973.0,936.2 1974.5,935.7 1976.0,935.7 1977.5,936.1 1979.0,936.4 1980.5,936.6 1982.0,936.5 1983.5,936.8 1985.0,937.0 1986.5,937.0 1988.0,936.7 1989.5,936.6 1991.0,936.5 1992.5,936.6 1994.0,936.1 1995.5,935.8 1997.0,936.6 1998.5,937.1 2000.0,936.8 2001.5,937.3 2003.0,937.8 2004.5,938.4 2006.0,938.1 2007.5,938.6 2009.0,938.7 2010.5,939.0 2012.0,938.3 2013.5,938.5 2015.0,938.4 2016.5,937.7 2018.0,938.2 2019.5,938.3 2021.0,938.0 2022.5,938.3 2024.0,938.4 2025.5,937.6 2027.0,937.6 2028.5,937.7 2030.0,937.7 2031.5,938.5 2033.0,938.8 2034.5,939.1 2036.0,939.5 2037.5,939.2 2039.0,939.0 2040.5,938.9 2042.0,939.2 2043.5,939.2 2045.0,939.5 2046.5,939.1 2048.0,939.5 2049.5,939.0 2051.0,939.2 2052.5,939.2 2054.0,939.4 2055.5,939.6 2057.0,940.1 2058.5,939.8 2060.0,940.2 2061.5,940.3 2063.0,940.0 2064.5,939.9 2066.0,939.9 2067.5,939.5 2069.0,939.6 2070.5,940.1 2072.0,940.5 2073.5,940.7 2075.0,941.3 2076.5,941.3 2078.0,941.1 2079.5,940.9 2081.0,941.1 2082.5,941.3 2084.0,941.4 2085.5,941.0 2087.0,941.2 2088.5,941.0 2090.0,940.3 2091.5,939.5 2093.0,940.1 2094.5,940.0 2096.0,940.3 2097.5,940.7 2099.0,942.0 2100.5,941.7 2102.0,941.8 2103.5,941.4 2105.0,941.0 2106.5,940.8 2108.0,940.8 2109.5,940.6" fill="none" stroke="#00B069" stroke-width="12" stroke-linejoin="round"/>
<polyline points="170.0,1235.2 171.5,1235.2 173.0,1235.0 174.5,1235.0 176.0,1235.2 177.5,1234.5 179.0,1234.1 180.5,1234.6 182.0,1234.0 183.5,1233.9 185.0,1234.4 186.5,1234.7 188.0,1233.7 189.5,1233.8 191.0,1233.6 192.5,1233.5 194.0,1233.0 195.5,1232.8 197.0,1233.0 198.5,1233.1 200.0,1232.8 201.5,1232.6 203.0,1232.8 204.5,1232.4 206.0,1232.2 207.5,1231.5 209.0,1231.6 210.5,1231.2 212.0,1230.7 213.5,1230.4 215.0,1230.5 216.5,1230.2 218.0,1230.1 219.5,1229.9 221.0,1229.6 222.5,1229.5 224.0,1229.5 225.5,1229.5 227.0,1229.4 228.5,1228.8 230.0,1228.6 231.5,1228.4 233.0,1228.5 234.5,1228.8 236.0,1228.8 237.5,1228.7 239.0,1228.2 240.5,1227.0 242.0,1227.4 243.5,1227.5 245.0,1227.3 246.5,1227.4 248.0,1228.1 249.5,1227.3 251.0,1227.4 252.5,1226.7 254.0,1226.0 255.5,1225.6 257.0,1225.8 258.5,1225.4 260.0,1225.5 261.5,1225.7 263.0,1225.0 264.5,1224.8 266.0,1224.6 267.5,1224.5 269.0,1224.3 270.5,1224.6 272.0,1224.1 273.5,1223.9 275.0,1223.2 276.5,1223.1 278.0,1223.2 279.5,1222.7 281.0,1222.2 282.5,1222.5 284.0,1222.5 285.5,1221.8 287.0,1221.3 288.5,1221.2 290.0,1220.5 291.5,1219.8 293.0,1219.5 294.5,1219.6 296.0,1219.5 297.5,1220.4 299.0,1220.6 300.5,1220.4 302.0,1220.1 303.5,1219.4 305.0,1218.1 306.5,1217.5 308.0,1216.7 309.5,1216.6 311.0,1216.4 312.5,1216.2 314.0,1215.7 315.5,1215.4 317.0,1215.5 318.5,1215.3 320.0,1215.6 321.5,1216.0 323.0,1216.0 324.5,1215.8 326.0,1215.2 327.5,1215.3 329.0,1215.1 330.5,1214.8 332.0,1214.1 333.5,1214.3 335.0,1212.9 336.5,1212.1 338.0,1212.1 339.5,1212.2 341.0,1211.7 342.5,1212.2 344.0,1211.8 345.5,1211.4 347.0,1211.0 348.5,1210.6 350.0,1210.2 351.5,1210.0 353.0,1210.1 354.5,1209.8 356.0,1210.3 357.5,1209.6 359.0,1209.7 360.5,1208.6 362.0,1208.1 363.5,1207.3 365.0,1207.5 366.5,1206.7 368.0,1207.0 369.5,1206.9 371.0,1206.5 372.5,1206.1 374.0,1206.3 375.5,1205.2 377.0,1205.5 378.5,1205.3 380.0,1204.8 381.5,1204.0 383.0,1203.7 384.5,1202.6 386.0,1202.2 387.5,1201.9 389.0,1201.5 390.5,1201.5 392.0,1202.0 393.5,1201.4 395.0,1201.0 396.5,1201.3 398.0,1201.2 399.5,1200.4 401.0,1200.0 402.5,1199.4 404.0,1198.3 405.5,1197.7 407.0,1197.3 408.5,1197.2 410.0,1197.3 411.5,1197.4 413.0,1197.2 414.5,1196.6 416.0,1195.5 417.5,1194.9 419.0,1194.2 420.5,1193.5 422.0,1193.4 423.5,1193.2 425.0,1192.7 426.5,1192.5 428.0,1192.3 429.5,1191.9 431.0,1191.9 432.5,1191.8 434.0,1191.1 435.5,1190.7 437.0,1191.0 438.5,1190.3 440.0,1190.3 441.5,1190.5 443.0,1190.5 444.5,1189.3 446.0,1189.7 447.5,1189.0 449.0,1188.1 450.5,1187.2 452.0,1187.2 453.5,1186.2 455.0,1185.7 456.5,1185.7 458.0,1185.1 459.5,1184.3 461.0,1184.0 462.5,1183.8 464.0,1183.3 465.5,1182.8 467.0,1182.9 468.5,1182.4 470.0,1182.2 471.5,1181.2 473.0,1181.1 474.5,1180.2 476.0,1179.2 477.5,1178.1 479.0,1178.3 480.5,1177.6 482.0,1177.1 483.5,1177.3 485.0,1177.3 486.5,1176.8 488.0,1176.2 489.5,1175.9 491.0,1175.5 492.5,1174.6 494.0,1173.7 495.5,1173.6 497.0,1173.6 498.5,1172.5 500.0,1171.5 501.5,1170.9 503.0,1169.9 504.5,1169.0 506.0,1168.9 507.5,1169.1 509.0,1168.8 510.5,1168.6 512.0,1167.9 513.5,1167.2 515.0,1166.6 516.5,1167.0 518.0,1166.7 519.5,1166.2 521.0,1165.5 522.5,1165.0 524.0,1163.3 525.5,1162.4 527.0,1161.9 528.5,1161.9 530.0,1161.4 531.5,1161.1 533.0,1160.4 534.5,1159.8 536.0,1159.0 537.5,1158.5 539.0,1158.5 540.5,1158.2 542.0,1158.3 543.5,1157.9 545.0,1157.4 546.5,1156.0 548.0,1155.3 549.5,1154.7 551.0,1154.5 552.5,1154.0 554.0,1154.2 555.5,1153.9 557.0,1153.1 558.5,1152.0 560.0,1151.7 561.5,1151.1 563.0,1150.6 564.5,1150.1 566.0,1149.9 567.5,1149.2 569.0,1148.3 570.5,1148.3 572.0,1148.0 573.5,1147.3 575.0,1147.1 576.5,1147.0 578.0,1146.0 579.5,1145.6 581.0,1144.7 582.5,1143.6 584.0,1142.2 585.5,1142.0 587.0,1140.8 588.5,1140.7 590.0,1140.2 591.5,1140.0 593.0,1139.0 594.5,1139.1 596.0,1138.5 597.5,1138.7 599.0,1138.5 600.5,1138.2 602.0,1137.5 603.5,1136.9 605.0,1136.0 606.5,1135.2 608.0,1134.4 609.5,1134.0 611.0,1133.3 612.5,1132.8 614.0,1132.2 615.5,1131.5 617.0,1131.2 618.5,1130.1 620.0,1129.3 621.5,1129.3 623.0,1128.2 624.5,1127.3 626.0,1127.4 627.5,1126.6 629.0,1126.3 630.5,1125.8 632.0,1125.8 633.5,1125.4 635.0,1125.6 636.5,1124.2 638.0,1124.5 639.5,1123.3 641.0,1122.5 642.5,1121.4 644.0,1120.8 645.5,1120.4 647.0,1119.8 648.5,1118.9 650.0,1118.7 651.5,1117.8 653.0,1117.3 654.5,1117.1 656.0,1116.2 657.5,1115.6 659.0,1115.2 660.5,1114.1 662.0,1113.4 663.5,1113.1 665.0,1112.8 666.5,1112.2 668.0,1112.1 669.5,1111.5 671.0,1111.4 672.5,1110.4 674.0,1109.9 675.5,1108.8 677.0,1108.4 678.5,1107.8 680.0,1108.0 681.5,1107.9 683.0,1107.8 684.5,1107.0 686.0,1106.3 687.5,1105.2 689.0,1104.7 690.5,1104.4 692.0,1103.7 693.5,1102.8 695.0,1102.7 696.5,1101.9 698.0,1101.0 699.5,1101.0 701.0,1100.6 702.5,1099.6 704.0,1098.9 705.5,1097.9 707.0,1097.3 708.5,1096.6 710.0,1096.0 711.5,1095.4 713.0,1095.6 714.5,1094.9 716.0,1094.7 717.5,1093.9 719.0,1093.6 720.5,1092.5 722.0,1092.1 723.5,1091.7 725.0,1091.6 726.5,1091.7 728.0,1091.8 729.5,1091.3 731.0,1090.8 732.5,1090.2 734.0,1089.5 735.5,1089.1 737.0,1088.1 738.5,1087.9 740.0,1087.6 741.5,1087.1 743.0,1086.4 744.5,1085.9 746.0,1084.9 747.5,1084.7 749.0,1084.0 750.5,1083.0 752.0,1083.0 753.5,1082.7 755.0,1081.2 756.5,1080.1 758.0,1079.5 759.5,1079.0 761.0,1078.6 762.5,1078.5 764.0,1078.7 765.5,1078.8 767.0,1077.7 768.5,1077.1 770.0,1076.4 771.5,1075.5 773.0,1074.7 774.5,1074.7 776.0,1074.2 777.5,1073.5 779.0,1073.2 780.5,1073.4 782.0,1072.6 783.5,1071.8 785.0,1071.7 786.5,1071.5 788.0,1070.6 789.5,1070.1 791.0,1070.3 792.5,1069.5 794.0,1068.6 795.5,1067.8 797.0,1067.6 798.5,1067.0 800.0,1067.0 801.5,1066.8 803.0,1066.8 804.5,1066.4 806.0,1066.0 807.5,1065.0 809.0,1064.1 810.5,1063.7 812.0,1062.9 813.5,1062.1 815.0,1062.1 816.5,1062.0 818.0,1061.3 819.5,1061.6 821.0,1060.7 822.5,1060.6 824.0,1061.0 825.5,1060.8 827.0,1060.1 828.5,1060.7 830.0,1060.6 831.5,1059.3 833.0,1059.1 834.5,1058.7 836.0,1058.4 837.5,1057.7 839.0,1057.9 840.5,1057.5 842.0,1057.3 843.5,1056.7 845.0,1056.2 846.5,1055.7 848.0,1055.5 849.5,1054.9 851.0,1055.2 852.5,1055.1 854.0,1054.5 855.5,1054.6 857.0,1054.4 858.5,1053.9 860.0,1053.6 861.5,1053.8 863.0,1053.2 864.5,1053.0 866.0,1052.6 867.5,1052.8 869.0,1051.9 870.5,1051.5 872.0,1051.5 873.5,1050.9 875.0,1049.6 876.5,1050.5 878.0,1050.0 879.5,1050.2 881.0,1050.2 882.5,1050.3 884.0,1049.5 885.5,1049.5 887.0,1048.9 888.5,1048.5 890.0,1048.2 891.5,1047.8 893.0,1047.6 894.5,1047.2 896.0,1046.4 897.5,1045.9 899.0,1045.6 900.5,1044.7 902.0,1044.0 903.5,1043.7 905.0,1043.4 906.5,1043.1 908.0,1043.2 909.5,1043.0 911.0,1043.4 912.5,1043.1 914.0,1043.6 915.5,1043.2 917.0,1043.0 918.5,1042.0 920.0,1040.9 921.5,1039.7 923.0,1039.1 924.5,1039.1 926.0,1038.5 927.5,1039.5 929.0,1039.1 930.5,1038.9 932.0,1037.3 933.5,1037.3 935.0,1036.4 936.5,1036.2 938.0,1035.7 939.5,1035.7 941.0,1035.6 942.5,1035.5 944.0,1035.1 945.5,1035.0 947.0,1035.3 948.5,1034.7 950.0,1033.8 951.5,1032.9 953.0,1032.7 954.5,1032.3 956.0,1032.0 957.5,1031.9 959.0,1032.0 960.5,1031.4 962.0,1030.8 963.5,1030.3 965.0,1030.8 966.5,1030.6 968.0,1030.2 969.5,1029.7 971.0,1029.4 972.5,1028.8 974.0,1028.8 975.5,1028.7 977.0,1028.8 978.5,1028.8 980.0,1028.1 981.5,1028.1 983.0,1028.0 984.5,1028.5 986.0,1028.2 987.5,1028.3 989.0,1028.1 990.5,1027.7 992.0,1026.5 993.5,1026.3 995.0,1026.2 996.5,1025.9 998.0,1025.8 999.5,1026.3 1001.0,1026.6 1002.5,1026.5 1004.0,1026.3 1005.5,1026.1 1007.0,1025.8 1008.5,1025.6 1010.0,1025.3 1011.5,1025.2 1013.0,1025.0 1014.5,1024.3 1016.0,1023.6 1017.5,1023.5 1019.0,1023.3 1020.5,1023.6 1022.0,1023.8 1023.5,1024.1 1025.0,1024.0 1026.5,1024.0 1028.0,1023.2 1029.5,1022.9 1031.0,1022.4 1032.5,1021.6 1034.0,1021.2 1035.5,1021.4 1037.0,1021.1 1038.5,1021.4 1040.0,1021.3 1041.5,1020.9 1043.0,1020.3 1044.5,1019.9 1046.0,1019.3 1047.5,1019.1 1049.0,1019.3 1050.5,1019.2 1052.0,1019.3 1053.5,1018.8 1055.0,1018.1 1056.5,1017.4 1058.0,1016.6 1059.5,1016.4 1061.0,1016.1 1062.5,1016.5 1064.0,1016.3 1065.5,1016.2 1067.0,1015.5 1068.5,1015.1 1070.0,1014.3 1071.5,1013.8 1073.0,1012.9 1074.5,1012.5 1076.0,1012.7 1077.5,1012.1 1079.0,1011.5 1080.5,1011.2 1082.0,1010.5 1083.5,1009.9 1085.0,1009.8 1086.5,1009.8 1088.0,1010.3 1089.5,1011.3 1091.0,1010.6 1092.5,1010.7 1094.0,1010.6 1095.5,1010.1 1097.0,1009.5 1098.5,1009.6 1100.0,1009.6 1101.5,1009.5 1103.0,1009.4 1104.5,1009.5 1106.0,1009.7 1107.5,1009.3 1109.0,1009.1 1110.5,1009.4 1112.0,1009.1 1113.5,1008.8 1115.0,1008.3 1116.5,1008.1 1118.0,1007.3 1119.5,1007.1 1121.0,1007.1 1122.5,1006.7 1124.0,1006.7 1125.5,1007.1 1127.0,1007.1 1128.5,1006.7 1130.0,1007.5 1131.5,1007.3 1133.0,1006.7 1134.5,1006.3 1136.0,1006.5 1137.5,1006.4 1139.0,1006.8 1140.5,1007.1 1142.0,1007.0 1143.5,1006.8 1145.0,1006.2 1146.5,1005.8 1148.0,1005.2 1149.5,1005.5 1151.0,1005.8 1152.5,1006.0 1154.0,1006.1 1155.5,1006.3 1157.0,1005.9 1158.5,1005.5 1160.0,1005.8 1161.5,1006.0 1163.0,1006.1 1164.5,1006.8 1166.0,1006.9 1167.5,1007.0 1169.0,1006.9 1170.5,1006.9 1172.0,1006.9 1173.5,1006.8 1175.0,1006.2 1176.5,1005.7 1178.0,1006.0 1179.5,1005.8 1181.0,1006.1 1182.5,1006.3 1184.0,1007.1 1185.5,1007.0 1187.0,1007.0 1188.5,1007.4 1190.0,1008.0 1191.5,1007.8 1193.0,1007.5 1194.5,1007.7 1196.0,1007.6 1197.5,1007.3 1199.0,1007.8 1200.5,1008.0 1202.0,1008.4 1203.5,1008.2 1205.0,1008.7 1206.5,1008.4 1208.0,1009.1 1209.5,1008.9 1211.0,1008.8 1212.5,1008.2 1214.0,1008.2 1215.5,1007.8 1217.0,1008.4 1218.5,1009.3 1220.0,1009.9 1221.5,1009.9 1223.0,1010.3 1224.5,1010.0 1226.0,1010.2 1227.5,1010.4 1229.0,1011.0 1230.5,1011.2 1232.0,1011.0 1233.5,1010.6 1235.0,1010.4 1236.5,1010.6 1238.0,1011.0 1239.5,1011.5 1241.0,1011.9 1242.5,1012.8 1244.0,1012.7 1245.5,1012.6 1247.0,1013.0 1248.5,1013.2 1250.0,1012.9 1251.5,1013.5 1253.0,1014.5 1254.5,1014.3 1256.0,1014.7 1257.5,1015.1 1259.0,1015.1 1260.5,1014.8 1262.0,1015.4 1263.5,1015.9 1265.0,1016.0 1266.5,1016.3 1268.0,1016.5 1269.5,1016.9 1271.0,1016.8 1272.5,1017.5 1274.0,1017.7 1275.5,1018.0 1277.0,1018.2 1278.5,1018.3 1280.0,1018.0 1281.5,1018.0 1283.0,1018.2 1284.5,1018.3 1286.0,1018.6 1287.5,1019.1 1289.0,1019.8 1290.5,1019.5 1292.0,1020.4 1293.5,1021.0 1295.0,1021.1 1296.5,1021.5 1298.0,1022.3 1299.5,1021.9 1301.0,1022.8 1302.5,1022.8 1304.0,1022.7 1305.5,1023.2 1307.0,1023.3 1308.5,1022.9 1310.0,1023.6 1311.5,1024.5 1313.0,1024.2 1314.5,1024.8 1316.0,1025.2 1317.5,1025.4 1319.0,1024.6 1320.5,1025.2 1322.0,1025.5 1323.5,1025.6 1325.0,1026.1 1326.5,1027.0 1328.0,1027.2 1329.5,1027.5 1331.0,1027.3 1332.5,1027.2 1334.0,1027.2 1335.5,1027.2 1337.0,1027.4 1338.5,1027.7 1340.0,1028.4 1341.5,1029.1 1343.0,1029.4 1344.5,1029.7 1346.0,1030.1 1347.5,1030.3 1349.0,1030.1 1350.5,1030.5 1352.0,1030.7 1353.5,1031.0 1355.0,1030.7 1356.5,1031.1 1358.0,1031.2 1359.5,1031.7 1361.0,1032.1 1362.5,1033.0 1364.0,1033.2 1365.5,1034.0 1367.0,1034.1 1368.5,1034.6 1370.0,1034.7 1371.5,1035.2 1373.0,1035.3 1374.5,1036.3 1376.0,1036.1 1377.5,1036.7 1379.0,1036.7 1380.5,1037.5 1382.0,1037.2 1383.5,1037.9 1385.0,1037.9 1386.5,1039.2 1388.0,1039.1 1389.5,1040.1 1391.0,1040.7 1392.5,1041.2 1394.0,1041.2 1395.5,1042.2 1397.0,1042.6 1398.5,1043.5 1400.0,1044.3 1401.5,1044.9 1403.0,1045.0 1404.5,1045.6 1406.0,1046.3 1407.5,1047.0 1409.0,1047.4 1410.5,1047.8 1412.0,1047.9 1413.5,1048.2 1415.0,1048.2 1416.5,1048.3 1418.0,1048.8 1419.5,1049.3 1421.0,1049.8 1422.5,1049.9 1424.0,1050.6 1425.5,1051.2 1427.0,1051.4 1428.5,1051.1 1430.0,1052.2 1431.5,1052.9 1433.0,1052.9 1434.5,1053.1 1436.0,1054.0 1437.5,1054.6 1439.0,1054.5 1440.5,1054.5 1442.0,1055.8 1443.5,1055.8 1445.0,1056.1 1446.5,1056.6 1448.0,1057.5 1449.5,1057.4 1451.0,1058.3 1452.5,1058.8 1454.0,1058.7 1455.5,1059.0 1457.0,1060.0 1458.5,1060.0 1460.0,1059.7 1461.5,1060.7 1463.0,1061.4 1464.5,1061.4 1466.0,1061.8 1467.5,1062.6 1469.0,1063.0 1470.5,1063.6 1472.0,1063.9 1473.5,1064.4 1475.0,1065.0 1476.5,1066.0 1478.0,1066.5 1479.5,1067.2 1481.0,1068.0 1482.5,1068.6 1484.0,1069.1 1485.5,1069.6 1487.0,1070.7 1488.5,1071.4 1490.0,1071.8 1491.5,1071.9 1493.0,1072.5 1494.5,1072.7 1496.0,1072.8 1497.5,1072.9 1499.0,1073.1 1500.5,1073.4 1502.0,1074.0 1503.5,1074.7 1505.0,1075.3 1506.5,1076.5 1508.0,1076.8 1509.5,1077.2 1511.0,1077.5 1512.5,1078.2 1514.0,1078.2 1515.5,1078.3 1517.0,1078.4 1518.5,1078.3 1520.0,1079.1 1521.5,1079.7 1523.0,1081.0 1524.5,1081.8 1526.0,1082.6 1527.5,1083.1 1529.0,1083.4 1530.5,1083.8 1532.0,1084.3 1533.5,1084.7 1535.0,1085.0 1536.5,1085.6 1538.0,1085.9 1539.5,1086.5 1541.0,1087.7 1542.5,1088.1 1544.0,1088.4 1545.5,1088.4 1547.0,1088.6 1548.5,1088.4 1550.0,1088.4 1551.5,1089.1 1553.0,1090.3 1554.5,1090.6 1556.0,1091.1 1557.5,1091.9 1559.0,1092.5 1560.5,1092.4 1562.0,1093.0 1563.5,1094.1 1565.0,1094.9 1566.5,1095.3 1568.0,1096.1 1569.5,1096.4 1571.0,1096.3 1572.5,1096.9 1574.0,1097.0 1575.5,1097.6 1577.0,1098.7 1578.5,1099.5 1580.0,1099.5 1581.5,1100.0 1583.0,1100.0 1584.5,1100.4 1586.0,1100.8 1587.5,1101.9 1589.0,1102.5 1590.5,1103.1 1592.0,1103.3 1593.5,1103.7 1595.0,1103.8 1596.5,1104.5 1598.0,1105.5 1599.5,1106.1 1601.0,1106.3 1602.5,1106.4 1604.0,1106.8 1605.5,1107.1 1607.0,1107.5 1608.5,1108.1 1610.0,1109.0 1611.5,1109.7 1613.0,1110.1 1614.5,1110.7 1616.0,1111.0 1617.5,1111.5 1619.0,1111.7 1620.5,1111.9 1622.0,1112.0 1623.5,1112.6 1625.0,1113.5 1626.5,1113.9 1628.0,1115.0 1629.5,1115.7 1631.0,1116.1 1632.5,1115.8 1634.0,1116.0 1635.5,1116.3 1637.0,1116.8 1638.5,1117.5 1640.0,1118.5 1641.5,1119.0 1643.0,1118.9 1644.5,1119.2 1646.0,1119.6 1647.5,1119.9 1649.0,1120.4 1650.5,1120.8 1652.0,1121.0 1653.5,1121.1 1655.0,1121.1 1656.5,1121.6 1658.0,1121.3 1659.5,1121.8 1661.0,1122.9 1662.5,1123.4 1664.0,1123.2 1665.5,1124.1 1667.0,1124.9 1668.5,1124.5 1670.0,1125.1 1671.5,1125.8 1673.0,1126.1 1674.5,1127.0 1676.0,1127.4 1677.5,1127.5 1679.0,1127.7 1680.5,1128.3 1682.0,1128.0 1683.5,1128.5 1685.0,1129.1 1686.5,1129.3 1688.0,1129.8 1689.5,1130.0 1691.0,1130.1 1692.5,1130.1 1694.0,1130.7 1695.5,1130.8 1697.0,1131.3 1698.5,1131.4 1700.0,1132.2 1701.5,1132.8 1703.0,1133.1 1704.5,1133.3 1706.0,1133.8 1707.5,1134.4 1709.0,1134.1 1710.5,1134.6 1712.0,1134.7 1713.5,1135.1 1715.0,1135.4 1716.5,1136.2 1718.0,1136.6 1719.5,1137.0 1721.0,1137.9 1722.5,1138.2 1724.0,1138.8 1725.5,1138.6 1727.0,1138.7 1728.5,1138.6 1730.0,1138.4 1731.5,1138.2 1733.0,1138.8 1734.5,1138.8 1736.0,1138.9 1737.5,1139.0 1739.0,1139.3 1740.5,1139.1 1742.0,1139.7 1743.5,1139.4 1745.0,1139.7 1746.5,1140.0 1748.0,1140.5 1749.5,1140.5 1751.0,1141.0 1752.5,1140.1 1754.0,1140.0 1755.5,1139.8 1757.0,1139.8 1758.5,1139.6 1760.0,1140.0 1761.5,1139.7 1763.0,1140.1 1764.5,1140.5 1766.0,1140.5 1767.5,1140.7 1769.0,1141.4 1770.5,1141.0 1772.0,1141.3 1773.5,1141.6 1775.0,1141.8 1776.5,1141.8 1778.0,1142.6 1779.5,1141.8 1781.0,1142.4 1782.5,1142.8 1784.0,1143.1 1785.5,1142.8 1787.0,1143.0 1788.5,1143.0 1790.0,1143.6 1791.5,1144.1 1793.0,1144.9 1794.5,1145.9 1796.0,1146.0 1797.5,1145.9 1799.0,1145.5 1800.5,1145.1 1802.0,1145.1 1803.5,1144.7 1805.0,1145.2 1806.5,1145.5 1808.0,1146.7 1809.5,1147.2 1811.0,1148.0 1812.5,1148.3 1814.0,1148.2 1815.5,1147.6 1817.0,1147.1 1818.5,1147.8 1820.0,1148.1 1821.5,1148.3 1823.0,1148.7 1824.5,1149.6 1826.0,1149.6 1827.5,1149.8 1829.0,1150.1 1830.5,1150.2 1832.0,1150.2 1833.5,1150.5 1835.0,1150.4 1836.5,1150.6 1838.0,1151.3 1839.5,1151.2 1841.0,1151.5 1842.5,1152.0 1844.0,1152.8 1845.5,1153.3 1847.0,1154.0 1848.5,1154.2 1850.0,1154.1 1851.5,1154.0 1853.0,1154.0 1854.5,1154.5 1856.0,1155.0 1857.5,1156.2 1859.0,1156.8 1860.5,1157.0 1862.0,1157.1 1863.5,1157.1 1865.0,1156.7 1866.5,1156.6 1868.0,1157.1 1869.5,1156.9 1871.0,1157.3 1872.5,1157.2 1874.0,1158.0 1875.5,1157.7 1877.0,1158.4 1878.5,1158.1 1880.0,1158.5 1881.5,1158.7 1883.0,1158.9 1884.5,1158.9 1886.0,1159.3 1887.5,1158.9 1889.0,1158.8 1890.5,1159.3 1892.0,1159.1 1893.5,1159.5 1895.0,1160.0 1896.5,1159.7 1898.0,1159.7 1899.5,1159.9 1901.0,1160.5 1902.5,1160.4 1904.0,1161.0 1905.5,1161.3 1907.0,1161.0 1908.5,1160.0 1910.0,1160.7 1911.5,1160.5 1913.0,1160.4 1914.5,1161.3 1916.0,1161.8 1917.5,1161.4 1919.0,1160.9 1920.5,1160.9 1922.0,1160.4 1923.5,1160.7 1925.0,1161.1 1926.5,1161.6 1928.0,1162.1 1929.5,1162.7 1931.0,1162.9 1932.5,1162.7 1934.0,1163.0 1935.5,1162.5 1937.0,1162.2 1938.5,1161.8 1940.0,1162.3 1941.5,1162.6 1943.0,1162.9 1944.5,1163.0 1946.0,1163.8 1947.5,1163.8 1949.0,1163.1 1950.5,1162.9 1952.0,1163.2 1953.5,1163.2 1955.0,1163.2 1956.5,1164.0 1958.0,1164.1 1959.5,1164.4 1961.0,1164.1 1962.5,1164.1 1964.0,1164.1 1965.5,1164.5 1967.0,1164.3 1968.5,1164.1 1970.0,1164.5 1971.5,1164.6 1973.0,1164.6 1974.5,1165.0 1976.0,1165.8 1977.5,1166.0 1979.0,1166.2 1980.5,1166.1 1982.0,1165.7 1983.5,1165.9 1985.0,1165.8 1986.5,1166.4 1988.0,1166.5 1989.5,1166.3 1991.0,1166.3 1992.5,1166.3 1994.0,1166.0 1995.5,1166.2 1997.0,1167.0 1998.5,1166.7 2000.0,1166.3 2001.5,1166.7 2003.0,1166.5 2004.5,1166.3 2006.0,1166.7 2007.5,1167.4 2009.0,1167.0 2010.5,1166.7 2012.0,1166.9 2013.5,1166.7 2015.0,1166.4 2016.5,1166.2 2018.0,1166.6 2019.5,1166.2 2021.0,1166.2 2022.5,1166.5 2024.0,1167.1 2025.5,1167.2 2027.0,1167.7 2028.5,1167.8 2030.0,1167.5 2031.5,1167.2 2033.0,1168.1 2034.5,1168.1 2036.0,1168.3 2037.5,1168.3 2039.0,1168.5 2040.5,1167.5 2042.0,1167.5 2043.5,1167.7 2045.0,1168.5 2046.5,1168.9 2048.0,1169.7 2049.5,1169.8 2051.0,1169.5 2052.5,1169.0 2054.0,1169.0 2055.5,1168.7 2057.0,1169.1 2058.5,1169.1 2060.0,1168.8 2061.5,1168.5 2063.0,1168.4 2064.5,1167.9 2066.0,1168.6 2067.5,1169.1 2069.0,1169.5 2070.5,1170.4 2072.0,1171.1 2073.5,1170.7 2075.0,1171.2 2076.5,1171.3 2078.0,1171.0 2079.5,1170.7 2081.0,1170.5 2082.5,1169.9 2084.0,1169.8 2085.5,1170.0 2087.0,1169.7 2088.5,1170.1 2090.0,1170.6 2091.5,1171.0 2093.0,1171.0 2094.5,1171.5 2096.0,1171.4 2097.5,1171.0 2099.0,1170.7 2100.5,1170.5 2102.0,1170.0 2103.5,1170.5 2105.0,1170.6 2106.5,1170.2 2108.0,1170.3 2109.5,1170.4" fill="none" stroke="#0071E4" stroke-width="12" stroke-linejoin="round"/>
<polyline points="170.0,1414.8 171.5,1415.2 173.0,1415.1 174.5,1414.8 176.0,1414.1 177.5,1413.9 179.0,1413.9 180.5,1413.6 182.0,1414.0 183.5,1413.7 185.0,1413.6 186.5,1413.1 188.0,1413.5 189.5,1413.0 191.0,1412.6 192.5,1412.6 194.0,1412.0 195.5,1412.4 197.0,1412.1 198.5,1412.4 200.0,1411.9 201.5,1411.9 203.0,1410.7 204.5,1410.9 206.0,1410.6 207.5,1410.9 209.0,1410.7 210.5,1410.8 212.0,1410.8 213.5,1410.4 215.0,1409.6 216.5,1409.8 218.0,1409.5 219.5,1408.9 221.0,1409.3 222.5,1409.4 224.0,1409.4 225.5,1409.4 227.0,1409.8 228.5,1409.8 230.0,1409.7 231.5,1409.3 233.0,1409.1 234.5,1408.7 236.0,1408.5 237.5,1408.1 239.0,1408.3 240.5,1408.0 242.0,1407.6 243.5,1406.7 245.0,1407.6 246.5,1407.2 248.0,1407.5 249.5,1407.5 251.0,1408.1 252.5,1406.9 254.0,1406.8 255.5,1407.2 257.0,1407.2 258.5,1406.8 260.0,1407.4 261.5,1407.1 263.0,1406.4 264.5,1406.6 266.0,1406.6 267.5,1406.4 269.0,1406.4 270.5,1406.4 272.0,1406.0 273.5,1406.3 275.0,1406.3 276.5,1406.2 278.0,1405.3 279.5,1405.4 281.0,1405.1 282.5,1404.6 284.0,1404.0 285.5,1404.2 287.0,1404.1 288.5,1403.5 290.0,1403.5 291.5,1404.0 293.0,1404.5 294.5,1404.2 296.0,1404.3 297.5,1404.1 299.0,1404.4 300.5,1404.2 302.0,1404.1 303.5,1403.6 305.0,1403.4 306.5,1403.0 308.0,1402.3 309.5,1402.5 311.0,1402.8 312.5,1402.9 314.0,1402.8 315.5,1403.0 317.0,1402.4 318.5,1402.0 320.0,1402.4 321.5,1401.8 323.0,1401.4 324.5,1401.7 326.0,1401.6 327.5,1400.6 329.0,1400.4 330.5,1400.5 332.0,1400.3 333.5,1400.6 335.0,1400.7 336.5,1401.1 338.0,1400.5 339.5,1400.1 341.0,1399.4 342.5,1399.3 344.0,1399.0 345.5,1399.4 347.0,1398.9 348.5,1399.3 350.0,1398.9 351.5,1398.3 353.0,1397.8 354.5,1397.4 356.0,1396.9 357.5,1396.9 359.0,1397.0 360.5,1397.0 362.0,1397.1 363.5,1396.9 365.0,1396.3 366.5,1396.1 368.0,1395.6 369.5,1395.3 371.0,1395.1 372.5,1395.4 374.0,1394.7 375.5,1394.3 377.0,1394.2 378.5,1394.1 380.0,1393.9 381.5,1394.4 383.0,1395.0 384.5,1395.0 386.0,1394.6 387.5,1394.0 389.0,1393.3 390.5,1392.6 392.0,1392.3 393.5,1392.2 395.0,1392.2 396.5,1392.2 398.0,1392.3 399.5,1392.0 401.0,1391.8 402.5,1391.7 404.0,1391.4 405.5,1390.7 407.0,1390.5 408.5,1390.3 410.0,1389.9 411.5,1389.7 413.0,1390.4 414.5,1389.8 416.0,1389.4 417.5,1389.3 419.0,1388.8 420.5,1388.0 422.0,1388.4 423.5,1388.5 425.0,1388.3 426.5,1388.6 428.0,1388.3 429.5,1387.8 431.0,1387.3 432.5,1386.8 434.0,1386.4 435.5,1386.3 437.0,1385.9 438.5,1385.8 440.0,1385.1 441.5,1385.2 443.0,1385.3 444.5,1385.3 446.0,1384.7 447.5,1384.8 449.0,1384.3 450.5,1383.1 452.0,1382.6 453.5,1382.3 455.0,1382.5 456.5,1382.5 458.0,1381.9 459.5,1381.5 461.0,1381.2 462.5,1380.3 464.0,1379.4 465.5,1379.6 467.0,1379.5 468.5,1379.0 470.0,1379.4 471.5,1379.8 473.0,1379.7 474.5,1379.3 476.0,1379.4 477.5,1378.5 479.0,1377.8 480.5,1377.5 482.0,1377.2 483.5,1377.6 485.0,1377.8 486.5,1377.5 488.0,1377.5 489.5,1376.7 491.0,1375.4 492.5,1374.8 494.0,1374.2 495.5,1373.7 497.0,1373.6 498.5,1374.1 500.0,1374.3 501.5,1374.4 503.0,1373.9 504.5,1373.8 506.0,1373.3 507.5,1372.3 509.0,1371.9 510.5,1371.9 512.0,1371.5 513.5,1371.4 515.0,1371.7 516.5,1371.1 518.0,1370.7 519.5,1370.1 521.0,1369.5 522.5,1368.7 524.0,1368.8 525.5,1368.6 527.0,1368.8 528.5,1368.3 530.0,1367.8 531.5,1367.8 533.0,1367.3 534.5,1367.1 536.0,1367.0 537.5,1367.3 539.0,1367.0 540.5,1366.8 542.0,1366.5 543.5,1365.7 545.0,1365.5 546.5,1364.6 548.0,1364.2 549.5,1363.5 551.0,1363.7 552.5,1363.6 554.0,1362.8 555.5,1362.5 557.0,1362.0 558.5,1361.9 560.0,1361.1 561.5,1361.4 563.0,1360.9 564.5,1361.0 566.0,1360.6 567.5,1360.3 569.0,1359.9 570.5,1359.3 572.0,1358.8 573.5,1358.5 575.0,1358.1 576.5,1358.0 578.0,1357.5 579.5,1356.6 581.0,1355.6 582.5,1355.3 584.0,1354.7 585.5,1354.9 587.0,1355.0 588.5,1355.2 590.0,1354.9 591.5,1354.2 593.0,1353.5 594.5,1353.8 596.0,1352.6 597.5,1352.4 599.0,1352.7 600.5,1352.9 602.0,1351.7 603.5,1352.0 605.0,1352.0 606.5,1351.5 608.0,1350.8 609.5,1350.9 611.0,1350.7 612.5,1350.4 614.0,1350.1 615.5,1349.9 617.0,1349.0 618.5,1348.7 620.0,1348.5 621.5,1348.0 623.0,1347.9 624.5,1348.6 626.0,1347.9 627.5,1347.3 629.0,1346.7 630.5,1346.3 632.0,1345.4 633.5,1345.7 635.0,1344.9 636.5,1344.6 638.0,1343.9 639.5,1343.7 641.0,1342.9 642.5,1342.9 644.0,1342.5 645.5,1342.5 647.0,1342.4 648.5,1342.1 650.0,1341.9 651.5,1342.0 653.0,1341.7 654.5,1340.7 656.0,1340.8 657.5,1340.3 659.0,1340.2 660.5,1339.4 662.0,1339.1 663.5,1338.0 665.0,1337.4 666.5,1337.1 668.0,1337.5 669.5,1337.6 671.0,1338.0 672.5,1338.1 674.0,1337.5 675.5,1337.1 677.0,1336.9 678.5,1335.9 680.0,1335.3 681.5,1335.5 683.0,1334.9 684.5,1334.6 686.0,1334.7 687.5,1334.3 689.0,1334.0 690.5,1333.7 692.0,1333.2 693.5,1332.2 695.0,1331.8 696.5,1330.7 698.0,1329.9 699.5,1330.1 701.0,1330.8 702.5,1330.1 704.0,1330.6 705.5,1330.8 707.0,1330.1 708.5,1329.8 710.0,1329.5 711.5,1328.6 713.0,1327.8 714.5,1327.4 716.0,1327.1 717.5,1326.8 719.0,1326.5 720.5,1326.3 722.0,1326.3 723.5,1325.7 725.0,1325.9 726.5,1325.7 728.0,1325.3 729.5,1324.8 731.0,1324.5 732.5,1323.7 734.0,1323.7 735.5,1324.2 737.0,1323.8 738.5,1323.5 740.0,1323.8 741.5,1323.2 743.0,1322.2 744.5,1321.7 746.0,1321.5 747.5,1321.0 749.0,1320.8 750.5,1320.7 752.0,1321.1 753.5,1320.9 755.0,1320.1 756.5,1319.8 758.0,1319.5 759.5,1319.1 761.0,1318.5 762.5,1318.4 764.0,1318.0 765.5,1317.2 767.0,1316.7 768.5,1316.3 770.0,1316.3 771.5,1315.9 773.0,1315.9 774.5,1315.4 776.0,1315.0 777.5,1314.8 779.0,1314.6 780.5,1314.6 782.0,1314.3 783.5,1314.3 785.0,1313.4 786.5,1313.1 788.0,1312.5 789.5,1312.7 791.0,1312.5 792.5,1312.6 794.0,1312.7 795.5,1312.6 797.0,1312.3 798.5,1312.2 800.0,1312.0 801.5,1311.4 803.0,1311.2 804.5,1310.6 806.0,1310.3 807.5,1310.3 809.0,1310.4 810.5,1309.9 812.0,1309.4 813.5,1309.0 815.0,1308.4 816.5,1308.3 818.0,1308.0 819.5,1308.0 821.0,1308.0 822.5,1307.6 824.0,1307.1 825.5,1307.4 827.0,1307.6 828.5,1307.3 830.0,1307.3 831.5,1306.8 833.0,1306.3 834.5,1305.6 836.0,1305.3 837.5,1304.9 839.0,1304.9 840.5,1304.5 842.0,1304.3 843.5,1304.4 845.0,1304.4 846.5,1303.7 848.0,1303.3 849.5,1302.6 851.0,1301.7 852.5,1301.5 854.0,1301.9 855.5,1301.7 857.0,1302.0 858.5,1301.8 860.0,1301.0 861.5,1300.3 863.0,1300.0 864.5,1300.0 866.0,1299.6 867.5,1300.1 869.0,1300.6 870.5,1300.5 872.0,1299.9 873.5,1299.8 875.0,1299.2 876.5,1298.7 878.0,1298.5 879.5,1298.5 881.0,1298.7 882.5,1298.5 884.0,1298.1 885.5,1297.8 887.0,1297.3 888.5,1296.4 890.0,1296.1 891.5,1295.8 893.0,1295.3 894.5,1295.5 896.0,1295.2 897.5,1294.6 899.0,1294.3 900.5,1293.7 902.0,1292.6 903.5,1292.2 905.0,1291.9 906.5,1291.5 908.0,1291.9 909.5,1292.1 911.0,1292.5 912.5,1292.8 914.0,1292.7 915.5,1292.3 917.0,1292.1 918.5,1291.5 920.0,1290.8 921.5,1290.8 923.0,1291.0 924.5,1290.5 926.0,1290.6 927.5,1290.8 929.0,1289.9 930.5,1289.4 932.0,1288.9 933.5,1288.5 935.0,1287.9 936.5,1288.4 938.0,1288.4 939.5,1288.3 941.0,1288.1 942.5,1287.8 944.0,1287.3 945.5,1287.1 947.0,1287.2 948.5,1286.5 950.0,1286.6 951.5,1286.6 953.0,1286.3 954.5,1286.4 956.0,1286.4 957.5,1286.5 959.0,1286.0 960.5,1285.8 962.0,1285.4 963.5,1285.8 965.0,1285.3 966.5,1285.4 968.0,1284.9 969.5,1284.2 971.0,1284.0 972.5,1284.0 974.0,1283.4 975.5,1283.3 977.0,1283.6 978.5,1283.7 980.0,1283.8 981.5,1284.4 983.0,1284.0 984.5,1283.8 986.0,1283.4 987.5,1283.1 989.0,1282.8 990.5,1283.1 992.0,1283.5 993.5,1283.6 995.0,1283.4 996.5,1282.9 998.0,1283.3 999.5,1282.6 1001.0,1282.3 1002.5,1282.7 1004.0,1282.6 1005.5,1282.0 1007.0,1281.9 1008.5,1281.5 1010.0,1280.9 1011.5,1281.5 1013.0,1281.4 1014.5,1281.3 1016.0,1281.3 1017.5,1280.9 1019.0,1280.0 1020.5,1280.3 1022.0,1279.8 1023.5,1279.1 1025.0,1278.9 1026.5,1278.5 1028.0,1277.0 1029.5,1277.2 1031.0,1276.8 1032.5,1276.4 1034.0,1276.2 1035.5,1276.2 1037.0,1275.3 1038.5,1275.2 1040.0,1275.7 1041.5,1275.7 1043.0,1275.8 1044.5,1275.3 1046.0,1274.9 1047.5,1273.6 1049.0,1273.3 1050.5,1272.7 1052.0,1272.7 1053.5,1272.3 1055.0,1272.0 1056.5,1270.9 1058.0,1270.7 1059.5,1269.8 1061.0,1269.0 1062.5,1268.7 1064.0,1268.4 1065.5,1267.9 1067.0,1268.2 1068.5,1268.2 1070.0,1268.0 1071.5,1268.0 1073.0,1267.9 1074.5,1267.0 1076.0,1267.0 1077.5,1266.6 1079.0,1266.2 1080.5,1265.9 1082.0,1266.3 1083.5,1266.3 1085.0,1266.8 1086.5,1266.5 1088.0,1266.4 1089.5,1267.0 1091.0,1267.1 1092.5,1267.1 1094.0,1267.8 1095.5,1267.4 1097.0,1266.5 1098.5,1266.5 1100.0,1266.3 1101.5,1266.0 1103.0,1266.3 1104.5,1266.7 1106.0,1266.0 1107.5,1265.6 1109.0,1266.2 1110.5,1266.8 1112.0,1266.6 1113.5,1267.5 1115.0,1267.4 1116.5,1266.7 1118.0,1265.3 1119.5,1265.4 1121.0,1264.6 1122.5,1265.1 1124.0,1265.2 1125.5,1265.5 1127.0,1264.5 1128.5,1264.7 1130.0,1263.6 1131.5,1263.1 1133.0,1262.2 1134.5,1262.6 1136.0,1262.1 1137.5,1261.7 1139.0,1261.4 1140.5,1261.8 1142.0,1261.6 1143.5,1261.1 1145.0,1261.5 1146.5,1261.2 1148.0,1260.7 1149.5,1260.2 1151.0,1259.4 1152.5,1258.7 1154.0,1259.0 1155.5,1259.2 1157.0,1259.2 1158.5,1260.0 1160.0,1259.6 1161.5,1259.3 1163.0,1259.4 1164.5,1259.8 1166.0,1259.6 1167.5,1260.4 1169.0,1261.0 1170.5,1260.8 1172.0,1260.8 1173.5,1260.7 1175.0,1259.9 1176.5,1259.6 1178.0,1259.8 1179.5,1259.7 1181.0,1260.0 1182.5,1260.5 1184.0,1260.5 1185.5,1261.0 1187.0,1260.9 1188.5,1260.7 1190.0,1261.1 1191.5,1261.1 1193.0,1260.8 1194.5,1260.9 1196.0,1262.0 1197.5,1261.7 1199.0,1261.7 1200.5,1261.0 1202.0,1260.8 1203.5,1259.9 1205.0,1259.9 1206.5,1259.9 1208.0,1260.2 1209.5,1260.8 1211.0,1260.7 1212.5,1260.6 1214.0,1260.6 1215.5,1260.4 1217.0,1260.1 1218.5,1260.6 1220.0,1260.6 1221.5,1261.1 1223.0,1261.4 1224.5,1261.3 1226.0,1260.9 1227.5,1260.5 1229.0,1259.8 1230.5,1259.7 1232.0,1259.5 1233.5,1260.0 1235.0,1259.8 1236.5,1259.7 1238.0,1259.3 1239.5,1259.8 1241.0,1259.4 1242.5,1259.9 1244.0,1259.9 1245.5,1260.6 1247.0,1260.2 1248.5,1260.4 1250.0,1260.0 1251.5,1260.6 1253.0,1260.5 1254.5,1260.7 1256.0,1261.0 1257.5,1261.5 1259.0,1261.1 1260.5,1261.2 1262.0,1261.2 1263.5,1260.8 1265.0,1260.9 1266.5,1260.9 1268.0,1261.0 1269.5,1261.3 1271.0,1261.5 1272.5,1262.2 1274.0,1262.1 1275.5,1262.0 1277.0,1262.4 1278.5,1262.5 1280.0,1261.8 1281.5,1262.8 1283.0,1263.3 1284.5,1262.7 1286.0,1263.3 1287.5,1263.7 1289.0,1263.3 1290.5,1263.3 1292.0,1263.8 1293.5,1263.5 1295.0,1264.0 1296.5,1264.3 1298.0,1264.7 1299.5,1265.0 1301.0,1265.8 1302.5,1266.0 1304.0,1266.1 1305.5,1266.0 1307.0,1266.1 1308.5,1266.5 1310.0,1267.0 1311.5,1267.4 1313.0,1268.2 1314.5,1268.1 1316.0,1268.1 1317.5,1267.9 1319.0,1268.4 1320.5,1268.5 1322.0,1268.9 1323.5,1268.8 1325.0,1268.8 1326.5,1268.7 1328.0,1269.0 1329.5,1270.3 1331.0,1270.5 1332.5,1271.0 1334.0,1270.9 1335.5,1271.0 1337.0,1269.6 1338.5,1269.3 1340.0,1269.5 1341.5,1269.6 1343.0,1269.9 1344.5,1270.8 1346.0,1271.0 1347.5,1270.9 1349.0,1271.0 1350.5,1270.4 1352.0,1270.4 1353.5,1270.9 1355.0,1271.3 1356.5,1271.9 1358.0,1272.3 1359.5,1272.5 1361.0,1272.1 1362.5,1272.2 1364.0,1272.7 1365.5,1273.5 1367.0,1273.5 1368.5,1274.0 1370.0,1274.6 1371.5,1275.0 1373.0,1274.5 1374.5,1274.7 1376.0,1275.1 1377.5,1275.3 1379.0,1274.9 1380.5,1275.7 1382.0,1276.0 1383.5,1276.9 1385.0,1277.0 1386.5,1277.4 1388.0,1277.4 1389.5,1278.1 1391.0,1277.9 1392.5,1277.7 1394.0,1278.1 1395.5,1278.1 1397.0,1277.9 1398.5,1277.6 1400.0,1277.8 1401.5,1277.8 1403.0,1278.1 1404.5,1278.7 1406.0,1279.5 1407.5,1280.0 1409.0,1280.1 1410.5,1280.8 1412.0,1280.3 1413.5,1279.8 1415.0,1280.2 1416.5,1280.9 1418.0,1281.2 1419.5,1281.8 1421.0,1282.2 1422.5,1282.1 1424.0,1282.2 1425.5,1281.9 1427.0,1282.0 1428.5,1282.1 1430.0,1282.1 1431.5,1282.4 1433.0,1282.9 1434.5,1282.9 1436.0,1283.2 1437.5,1283.6 1439.0,1283.7 1440.5,1283.4 1442.0,1283.9 1443.5,1283.8 1445.0,1283.8 1446.5,1284.0 1448.0,1284.8 1449.5,1284.8 1451.0,1285.4 1452.5,1286.2 1454.0,1286.2 1455.5,1286.1 1457.0,1286.8 1458.5,1287.3 1460.0,1287.7 1461.5,1288.4 1463.0,1288.7 1464.5,1288.9 1466.0,1289.2 1467.5,1288.9 1469.0,1288.8 1470.5,1289.6 1472.0,1289.6 1473.5,1290.3 1475.0,1291.2 1476.5,1291.8 1478.0,1292.1 1479.5,1293.1 1481.0,1293.6 1482.5,1293.9 1484.0,1294.3 1485.5,1294.5 1487.0,1295.3 1488.5,1295.7 1490.0,1296.0 1491.5,1296.4 1493.0,1296.7 1494.5,1296.7 1496.0,1296.9 1497.5,1298.2 1499.0,1298.2 1500.5,1299.1 1502.0,1299.6 1503.5,1299.7 1505.0,1299.4 1506.5,1300.1 1508.0,1300.2 1509.5,1300.8 1511.0,1300.9 1512.5,1301.7 1514.0,1302.1 1515.5,1302.8 1517.0,1303.0 1518.5,1304.1 1520.0,1304.2 1521.5,1305.0 1523.0,1305.0 1524.5,1305.0 1526.0,1305.2 1527.5,1305.6 1529.0,1306.2 1530.5,1306.0 1532.0,1306.5 1533.5,1306.9 1535.0,1306.7 1536.5,1306.4 1538.0,1307.9 1539.5,1308.7 1541.0,1308.5 1542.5,1309.5 1544.0,1310.2 1545.5,1310.2 1547.0,1310.3 1548.5,1310.9 1550.0,1310.6 1551.5,1310.5 1553.0,1310.8 1554.5,1311.0 1556.0,1311.8 1557.5,1312.3 1559.0,1312.1 1560.5,1312.1 1562.0,1312.4 1563.5,1312.4 1565.0,1312.8 1566.5,1313.5 1568.0,1314.3 1569.5,1314.4 1571.0,1314.8 1572.5,1315.0 1574.0,1315.2 1575.5,1315.5 1577.0,1315.3 1578.5,1315.1 1580.0,1315.6 1581.5,1316.1 1583.0,1316.2 1584.5,1317.2 1586.0,1317.6 1587.5,1318.3 1589.0,1318.7 1590.5,1318.7 1592.0,1318.7 1593.5,1318.9 1595.0,1318.8 1596.5,1319.3 1598.0,1319.6 1599.5,1320.0 1601.0,1320.6 1602.5,1320.3 1604.0,1320.3 1605.5,1320.5 1607.0,1320.8 1608.5,1320.9 1610.0,1321.4 1611.5,1321.6 1613.0,1322.4 1614.5,1323.2 1616.0,1323.7 1617.5,1324.2 1619.0,1325.0 1620.5,1325.0 1622.0,1325.4 1623.5,1326.0 1625.0,1326.2 1626.5,1326.3 1628.0,1326.4 1629.5,1325.4 1631.0,1324.7 1632.5,1325.1 1634.0,1325.5 1635.5,1325.7 1637.0,1327.3 1638.5,1328.3 1640.0,1328.5 1641.5,1329.0 1643.0,1330.0 1644.5,1330.1 1646.0,1329.8 1647.5,1330.6 1649.0,1330.5 1650.5,1330.2 1652.0,1330.5 1653.5,1330.9 1655.0,1331.1 1656.5,1331.6 1658.0,1332.4 1659.5,1332.8 1661.0,1333.0 1662.5,1333.0 1664.0,1333.3 1665.5,1333.2 1667.0,1334.1 1668.5,1334.5 1670.0,1334.7 1671.5,1335.0 1673.0,1335.6 1674.5,1335.0 1676.0,1335.3 1677.5,1335.8 1679.0,1336.0 1680.5,1336.3 1682.0,1336.5 1683.5,1336.9 1685.0,1337.3 1686.5,1337.5 1688.0,1336.7 1689.5,1336.8 1691.0,1336.8 1692.5,1336.7 1694.0,1336.8 1695.5,1338.2 1697.0,1338.8 1698.5,1339.2 1700.0,1339.6 1701.5,1340.2 1703.0,1340.0 1704.5,1340.2 1706.0,1340.9 1707.5,1341.2 1709.0,1340.4 1710.5,1340.8 1712.0,1340.9 1713.5,1340.6 1715.0,1341.0 1716.5,1341.9 1718.0,1341.9 1719.5,1342.4 1721.0,1342.7 1722.5,1342.6 1724.0,1342.7 1725.5,1343.0 1727.0,1342.8 1728.5,1342.6 1730.0,1342.7 1731.5,1342.5 1733.0,1342.2 1734.5,1342.8 1736.0,1342.9 1737.5,1343.0 1739.0,1343.3 1740.5,1343.7 1742.0,1343.5 1743.5,1343.6 1745.0,1343.5 1746.5,1343.9 1748.0,1343.8 1749.5,1344.1 1751.0,1343.6 1752.5,1343.6 1754.0,1343.7 1755.5,1343.9 1757.0,1343.6 1758.5,1344.3 1760.0,1344.3 1761.5,1344.2 1763.0,1343.7 1764.5,1343.8 1766.0,1343.6 1767.5,1344.1 1769.0,1344.4 1770.5,1344.9 1772.0,1345.6 1773.5,1345.7 1775.0,1345.1 1776.5,1344.3 1778.0,1345.1 1779.5,1344.7 1781.0,1344.8 1782.5,1345.3 1784.0,1345.8 1785.5,1345.9 1787.0,1346.0 1788.5,1346.9 1790.0,1347.2 1791.5,1347.0 1793.0,1347.0 1794.5,1347.1 1796.0,1346.7 1797.5,1347.4 1799.0,1348.1 1800.5,1348.4 1802.0,1348.7 1803.5,1348.7 1805.0,1348.6 1806.5,1348.7 1808.0,1348.9 1809.5,1349.4 1811.0,1349.8 1812.5,1350.0 1814.0,1350.5 1815.5,1350.3 1817.0,1350.5 1818.5,1350.6 1820.0,1350.8 1821.5,1350.5 1823.0,1350.8 1824.5,1350.9 1826.0,1350.9 1827.5,1350.8 1829.0,1351.1 1830.5,1351.4 1832.0,1351.3 1833.5,1351.8 1835.0,1352.5 1836.5,1353.0 1838.0,1352.5 1839.5,1352.9 1841.0,1353.3 1842.5,1353.0 1844.0,1353.4 1845.5,1354.2 1847.0,1354.5 1848.5,1354.4 1850.0,1354.5 1851.5,1354.3 1853.0,1354.4 1854.5,1354.6 1856.0,1355.0 1857.5,1355.3 1859.0,1355.5 1860.5,1355.8 1862.0,1355.4 1863.5,1355.3 1865.0,1355.3 1866.5,1355.4 1868.0,1355.4 1869.5,1355.9 1871.0,1356.1 1872.5,1356.6 1874.0,1356.9 1875.5,1356.6 1877.0,1356.8 1878.5,1356.9 1880.0,1357.3 1881.5,1357.2 1883.0,1357.6 1884.5,1357.7 1886.0,1358.0 1887.5,1357.6 1889.0,1358.2 1890.5,1358.4 1892.0,1358.7 1893.5,1359.1 1895.0,1358.9 1896.5,1359.0 1898.0,1359.2 1899.5,1359.3 1901.0,1358.8 1902.5,1359.3 1904.0,1359.0 1905.5,1358.7 1907.0,1359.1 1908.5,1359.5 1910.0,1359.3 1911.5,1359.3 1913.0,1359.7 1914.5,1359.4 1916.0,1359.5 1917.5,1359.9 1919.0,1360.3 1920.5,1359.8 1922.0,1359.4 1923.5,1359.0 1925.0,1358.8 1926.5,1358.8 1928.0,1359.4 1929.5,1359.3 1931.0,1359.5 1932.5,1359.8 1934.0,1359.3 1935.5,1359.2 1937.0,1359.6 1938.5,1359.3 1940.0,1359.3 1941.5,1359.6 1943.0,1359.9 1944.5,1359.7 1946.0,1360.0 1947.5,1359.8 1949.0,1359.9 1950.5,1359.8 1952.0,1360.2 1953.5,1361.0 1955.0,1361.6 1956.5,1361.5 1958.0,1361.4 1959.5,1362.0 1961.0,1361.5 1962.5,1361.6 1964.0,1362.4 1965.5,1362.5 1967.0,1362.1 1968.5,1362.3 1970.0,1361.8 1971.5,1361.2 1973.0,1361.4 1974.5,1361.8 1976.0,1361.7 1977.5,1362.0 1979.0,1362.2 1980.5,1362.1 1982.0,1362.3 1983.5,1361.9 1985.0,1361.8 1986.5,1362.2 1988.0,1362.2 1989.5,1362.1 1991.0,1363.1 1992.5,1363.1 1994.0,1363.1 1995.5,1363.2 1997.0,1363.3 1998.5,1363.0 2000.0,1363.4 2001.5,1363.7 2003.0,1364.2 2004.5,1364.5 2006.0,1364.7 2007.5,1364.4 2009.0,1364.1 2010.5,1364.2 2012.0,1363.5 2013.5,1363.7 2015.0,1364.1 2016.5,1364.2 2018.0,1363.9 2019.5,1364.4 2021.0,1364.1 2022.5,1364.1 2024.0,1364.0 2025.5,1363.8 2027.0,1364.2 2028.5,1363.8 2030.0,1363.4 2031.5,1363.1 2033.0,1363.5 2034.5,1363.4 2036.0,1363.5 2037.5,1364.2 2039.0,1364.2 2040.5,1365.1 2042.0,1365.1 2043.5,1366.0 2045.0,1365.7 2046.5,1366.1 2048.0,1365.3 2049.5,1365.4 2051.0,1365.1 2052.5,1365.0 2054.0,1364.5 2055.5,1364.5 2057.0,1364.0 2058.5,1363.7 2060.0,1363.9 2061.5,1363.8 2063.0,1364.2 2064.5,1364.8 2066.0,1364.7 2067.5,1364.9 2069.0,1365.3 2070.5,1365.2 2072.0,1365.0 2073.5,1365.6 2075.0,1366.0 2076.5,1366.2 2078.0,1366.3 2079.5,1367.0 2081.0,1367.3 2082.5,1367.0 2084.0,1366.8 2085.5,1367.3 2087.0,1366.5 2088.5,1366.2 2090.0,1366.4 2091.5,1366.3 2093.0,1365.9 2094.5,1365.7 2096.0,1365.5 2097.5,1365.0 2099.0,1365.8 2100.5,1366.3 2102.0,1367.1 2103.5,1367.4 2105.0,1368.2 2106.5,1367.9 2108.0,1367.5 2109.5,1367.2" fill="none" stroke="#FF4040" stroke-width="12" stroke-linejoin="round"/>
</g>
<g>
<polyline points="270.2,512.4 270.7,512.4 271.2,512.4 271.7,512.4 272.2,512.4 272.7,512.4 273.2,512.4 273.7,512.4 274.2,512.4 274.7,512.4 275.2,512.4 275.7,512.4 276.2,512.4 276.7,512.4 277.2,512.4 277.7,512.4 278.2,512.4 278.7,512.4 279.2,512.4 279.7,512.4 280.2,512.4 280.7,512.4 281.2,512.4 281.7,512.4 282.2,512.4 282.7,512.4 283.2,512.4 283.7,512.4 284.2,512.4 284.7,512.4 285.2,512.2 285.7,511.8 286.2,511.4 286.7,510.8 287.2,510.1 287.7,509.3 288.2,508.4 288.7,507.4 289.2,505.8 289.7,502.7 290.2,498.3 290.7,493.0 291.2,487.1 291.7,481.0 292.2,474.9 292.7,468.9 293.2,460.8 293.7,452.0 294.2,444.7 294.7,441.0 295.2,442.4 295.7,447.7 296.2,455.8 296.7,465.4 297.2,476.9 297.7,495.5 298.2,501.9 298.7,503.2 299.2,503.9 299.7,504.2 300.2,503.9 300.7,503.1 301.2,501.8 301.7,500.1 302.2,498.2 302.7,494.6 303.2,488.4 303.7,479.9 304.2,469.4 304.7,457.6 305.2,444.6 305.7,426.7 306.2,401.7 306.7,372.7 307.2,342.7 307.7,314.6 308.2,291.5 308.7,273.7 309.2,257.8 309.7,240.3 310.2,217.6 310.7,178.3 311.2,111.2 311.7,135.1 312.2,200.0 312.7,264.3 313.2,330.0 313.7,389.0 314.2,438.9 314.7,480.7 315.2,495.6 315.7,503.2 316.2,506.9 316.7,508.0 317.2,508.8 317.7,509.4 318.2,510.0 318.7,510.3 319.2,510.6 319.7,510.8 320.2,510.9 320.7,511.0 321.2,511.1 321.7,511.2 322.2,511.2 322.7,511.3 323.2,511.4 323.7,511.5 324.2,511.5 324.7,511.6 325.2,511.6 325.7,511.7 326.2,511.8 326.7,511.8 327.2,511.9 327.7,511.9 328.2,512.0 328.7,512.0 329.2,512.0 329.7,512.1 330.2,512.1 330.7,512.1 331.2,512.2 331.7,512.2 332.2,512.2 332.7,512.3 333.2,512.3 333.7,512.3 334.2,512.3 334.7,512.3 335.2,512.3 335.7,512.4 336.2,512.4 336.7,512.4 337.2,512.4 337.7,512.4 338.2,512.4 338.7,512.4 339.2,512.4 339.7,512.4 340.2,512.4 340.7,512.4 341.2,512.4 341.7,512.4 342.2,512.4 342.7,512.4 343.2,512.4 343.7,512.4 344.2,512.4 344.7,512.4 345.2,512.4 345.7,512.4 346.2,512.4 346.7,512.4 347.2,512.4 347.7,512.4 348.2,512.4 348.7,512.4 349.2,512.4 349.7,512.4 350.2,512.4 350.7,512.4 351.2,512.4 351.7,512.4 352.2,512.4 352.7,512.4 353.2,512.4 353.7,512.4 354.2,512.4 354.7,512.4 355.2,512.2 355.7,511.9 356.2,511.6 356.7,511.1 357.2,510.7 357.7,510.2 358.2,509.8 358.7,509.4 359.2,509.0 359.7,508.8 360.2,508.6 360.7,508.5 361.2,508.5 361.7,508.4 362.2,508.4 362.7,508.3 363.2,508.3 363.7,508.3 364.2,508.3 364.7,508.8 365.2,509.5 365.7,510.4 366.2,511.4 366.7,512.2 367.2,512.9 367.7,513.1 368.2,513.1 368.7,513.1 369.2,513.1 369.7,513.1 370.2,513.0 370.7,513.0 371.2,513.0 371.7,513.0 372.2,512.9 372.7,512.9 373.2,512.8 373.7,512.8 374.2,512.7 374.7,512.7 375.2,512.6 375.7,512.5 376.2,512.5 376.7,512.4 377.2,512.1 377.7,511.6 378.2,510.9 378.7,510.0 379.2,509.0 379.7,507.8 380.2,506.6 380.7,505.3 381.2,503.9 381.7,502.1 382.2,499.8 382.7,497.2 383.2,494.4 383.7,491.6 384.2,489.0 384.7,486.7 385.2,484.6 385.7,482.5 386.2,480.4 386.7,478.9 387.2,478.1 387.7,478.6 388.2,480.2 388.7,482.8 389.2,485.9 389.7,489.3 390.2,494.7 390.7,502.1 391.2,508.3 391.7,510.6 392.2,511.6 392.7,512.4 393.2,512.9 393.7,513.1 394.2,513.1 394.7,513.1 395.2,513.1 395.7,513.1 396.2,513.1 396.7,513.1 397.2,513.1 397.7,513.1 398.2,513.1 398.7,513.1 399.2,513.1 399.7,513.1 400.2,513.1 400.7,513.1 401.2,513.1 401.7,513.1 402.2,513.1 402.7,513.1 403.2,513.1 403.7,513.1 404.2,513.1 404.7,513.1 405.2,513.1 405.7,513.1 406.2,513.1 406.7,513.1 407.2,513.1 407.7,513.1 408.2,513.1 408.7,513.1 409.2,513.1 409.7,513.1 410.2,513.1 410.7,513.1 411.2,513.1 411.7,513.1 412.2,513.1 412.7,513.1 413.2,513.1 413.7,513.1 414.2,513.1 414.7,513.1 415.2,513.1 415.7,513.1 416.2,513.1 416.7,513.1 417.2,513.1 417.7,513.1 418.2,513.1 418.7,513.1 419.2,513.1 419.7,513.1 420.2,513.1 420.7,513.1 421.2,513.1 421.7,513.1 422.2,513.1 422.7,513.1 423.2,513.1 423.7,513.1 424.2,513.1 424.7,513.1 425.2,513.1 425.7,513.1 426.2,513.1 426.7,513.0 427.2,512.8 427.7,512.6 428.2,512.3 428.7,512.0 429.2,511.7 429.7,511.3 430.2,511.0 430.7,510.6 431.2,510.2 431.7,509.8 432.2,509.4 432.7,509.0 433.2,508.6 433.7,508.2 434.2,507.7 434.7,507.2 435.2,506.6 435.7,506.0 436.2,505.4 436.7,504.9 437.2,504.4 437.7,504.0 438.2,503.6 438.7,503.5 439.2,503.4 439.7,503.6 440.2,504.2 440.7,504.9 441.2,505.8 441.7,506.7 442.2,507.6 442.7,508.4 443.2,509.0 443.7,509.5 444.2,509.8 444.7,510.1 445.2,510.4 445.7,510.7 446.2,510.9 446.7,511.2 447.2,511.4 447.7,511.6 448.2,511.7 448.7,511.8 449.2,511.9 449.7,511.9 450.2,511.9 450.7,511.9 451.2,511.8 451.7,511.7 452.2,511.7 452.7,511.6 453.2,511.5 453.7,511.3 454.2,511.2 454.7,511.0 455.2,510.9 455.7,510.7 456.2,510.5 456.7,510.3 457.2,510.0 457.7,509.8 458.2,509.6 458.7,509.3 459.2,508.9 459.7,508.3 460.2,507.6 460.7,506.7 461.2,505.7 461.7,504.5 462.2,503.3 462.7,501.9 463.2,500.5 463.7,499.0 464.2,497.4 464.7,495.5 465.2,493.0 465.7,489.7 466.2,486.1 466.7,482.1 467.2,478.2 467.7,474.4 468.2,470.9 468.7,468.0 469.2,465.6 469.7,463.2 470.2,460.8 470.7,458.9 471.2,457.6 471.7,457.3 472.2,458.5 472.7,461.1 473.2,464.5 473.7,468.3 474.2,472.2 474.7,478.0 475.2,485.2 475.7,491.5 476.2,495.0 476.7,495.4 477.2,495.6 477.7,495.7 478.2,495.8 478.7,496.1 479.2,498.7 479.7,502.9 480.2,507.0 480.7,509.3 481.2,509.4 481.7,509.4 482.2,509.3 482.7,509.2 483.2,509.1 483.7,509.0 484.2,508.9 484.7,508.8 485.2,508.7 485.7,508.7 486.2,508.6 486.7,508.6 487.2,508.6 487.7,508.8 488.2,509.0 488.7,509.3 489.2,509.7 489.7,510.1 490.2,510.4 490.7,510.8 491.2,511.1 491.7,511.4 492.2,511.5 492.7,511.6 493.2,511.6 493.7,511.5 494.2,511.4 494.7,511.2 495.2,511.0 495.7,510.8 496.2,510.6 496.7,510.4 497.2,510.2 497.7,510.0 498.2,509.8 498.7,509.6 499.2,509.5 499.7,509.4 500.2,509.4 500.7,509.4 501.2,509.4 501.7,509.5 502.2,509.5 502.7,509.6 503.2,509.7 503.7,509.8 504.2,509.9 504.7,510.0 505.2,510.1 505.7,510.2 506.2,510.3 506.7,510.4 507.2,510.6 507.7,510.7 508.2,510.8 508.7,510.8 509.2,510.9 509.7,511.0 510.2,511.1 510.7,511.1 511.2,511.2 511.7,511.3 512.2,511.4 512.7,511.5 513.2,511.6 513.7,511.7 514.2,511.7 514.7,511.8 515.2,511.9 515.7,512.0 516.2,512.0 516.7,512.1 517.2,512.2 517.7,512.2 518.2,512.3 518.7,512.3 519.2,512.3 519.7,512.4 520.2,512.4 520.7,512.4 521.2,512.4 521.7,512.3 522.2,512.2 522.7,512.1 523.2,511.9 523.7,511.7 524.2,511.4 524.7,511.1 525.2,510.8 525.7,510.4 526.2,510.1 526.7,509.7 527.2,509.3 527.7,508.9 528.2,508.5 528.7,508.1 529.2,507.7 529.7,507.3 530.2,507.0 530.7,506.5 531.2,506.0 531.7,505.4 532.2,504.8 532.7,504.1 533.2,503.5 533.7,502.8 534.2,502.1 534.7,501.5 535.2,500.9 535.7,500.3 536.2,499.7 536.7,499.3 537.2,498.9 537.7,498.5 538.2,498.3 538.7,498.2 539.2,498.3 539.7,499.0 540.2,500.1 540.7,501.5 541.2,503.1 541.7,504.7 542.2,506.2 542.7,507.4 543.2,508.7 543.7,510.0 544.2,511.1 544.7,511.6 545.2,511.6 545.7,511.6 546.2,511.6 546.7,511.6 547.2,511.6 547.7,511.6 548.2,511.6 548.7,511.6 549.2,511.6 549.7,511.6 550.2,511.6 550.7,511.6 551.2,511.6 551.7,511.6 552.2,511.5 552.7,511.5 553.2,511.5 553.7,511.5 554.2,511.5 554.7,511.5 555.2,511.5 555.7,511.5 556.2,511.5 556.7,511.5 557.2,511.5 557.7,511.4 558.2,511.4 558.7,511.4 559.2,511.4 559.7,511.4 560.2,511.4 560.7,511.4 561.2,511.3 561.7,511.3 562.2,511.3 562.7,511.3 563.2,511.3 563.7,511.2 564.2,511.2 564.7,511.1 565.2,511.1 565.7,511.0 566.2,510.9 566.7,510.8 567.2,510.7 567.7,510.6 568.2,510.5 568.7,510.4 569.2,510.3 569.7,510.2 570.2,510.0 570.7,509.9 571.2,509.8 571.7,509.7 572.2,509.5 572.7,509.4 573.2,509.3 573.7,509.2 574.2,509.1 574.7,509.0 575.2,508.9 575.7,508.8 576.2,508.8 576.7,508.7 577.2,508.6 577.7,508.6 578.2,508.5 578.7,508.5 579.2,508.5 579.7,508.4 580.2,508.4 580.7,508.4 581.2,508.4 581.7,508.4 582.2,508.3 582.7,508.3 583.2,508.3 583.7,508.3 584.2,508.3 584.7,508.2 585.2,508.2 585.7,508.2 586.2,508.2 586.7,508.1 587.2,508.1 587.7,508.0 588.2,508.0 588.7,507.9 589.2,507.8 589.7,507.6 590.2,507.2 590.7,506.7 591.2,506.2 591.7,505.6 592.2,505.0 592.7,504.4 593.2,503.9 593.7,503.5 594.2,503.2 594.7,503.0 595.2,503.1 595.7,503.5 596.2,504.3 596.7,505.2 597.2,506.1 597.7,506.8 598.2,507.4 598.7,507.5 599.2,507.5 599.7,507.5 600.2,507.5 600.7,507.5 601.2,507.5 601.7,507.5 602.2,507.5 602.7,507.5 603.2,507.5 603.7,507.5 604.2,507.6 604.7,507.8 605.2,508.1 605.7,508.5 606.2,508.9 606.7,509.3 607.2,509.7 607.7,510.0 608.2,510.1 608.7,510.1 609.2,509.9 609.7,509.7 610.2,509.3 610.7,508.9 611.2,508.4 611.7,507.9 612.2,507.4 612.7,506.8 613.2,506.3 613.7,505.8 614.2,505.3 614.7,504.9 615.2,504.5 615.7,504.2 616.2,504.0 616.7,503.8 617.2,503.6 617.7,503.5 618.2,503.3 618.7,503.2 619.2,503.0 619.7,502.9 620.2,502.7 620.7,502.5 621.2,502.3 621.7,502.0 622.2,501.6 622.7,500.9 623.2,500.0 623.7,499.1 624.2,498.1 624.7,497.1 625.2,496.2 625.7,495.4 626.2,494.8 626.7,494.5 627.2,494.5 627.7,494.5 628.2,494.5 628.7,494.5 629.2,494.5 629.7,494.5 630.2,494.5 630.7,494.5 631.2,495.0 631.7,496.1 632.2,497.4 632.7,498.6 633.2,499.4 633.7,499.7 634.2,499.6 634.7,499.4 635.2,499.0 635.7,498.5 636.2,498.0 636.7,497.4 637.2,496.8 637.7,496.1 638.2,495.1 638.7,493.8 639.2,492.4 639.7,490.8 640.2,489.1 640.7,487.3 641.2,485.5 641.7,483.0 642.2,480.1 642.7,477.3 643.2,475.2 643.7,474.4 644.2,474.6 644.7,475.1 645.2,476.1 645.7,477.3 646.2,478.9 646.7,485.7 647.2,496.9 647.7,504.2 648.2,506.6 648.7,508.6 649.2,510.0 649.7,510.8 650.2,510.9 650.7,510.9 651.2,510.9 651.7,510.9 652.2,510.9 652.7,511.0 653.2,511.0 653.7,511.0 654.2,511.0 654.7,511.0 655.2,511.0 655.7,511.0 656.2,511.0 656.7,511.0 657.2,511.0 657.7,511.1 658.2,511.1 658.7,511.1 659.2,511.1 659.7,511.1 660.2,511.1 660.7,511.1 661.2,511.1 661.7,511.1 662.2,511.1 662.7,511.1 663.2,511.1 663.7,511.1 664.2,511.1 664.7,511.2 665.2,511.2 665.7,511.2 666.2,511.2 666.7,511.2 667.2,511.2 667.7,511.2 668.2,511.2 668.7,511.2 669.2,511.2 669.7,511.2 670.2,511.2 670.7,511.2 671.2,511.2 671.7,511.2 672.2,511.2 672.7,511.2 673.2,511.2 673.7,511.2 674.2,511.2 674.7,511.2 675.2,511.2 675.7,511.2 676.2,511.3 676.7,511.3 677.2,511.3 677.7,511.3 678.2,511.3 678.7,511.3 679.2,511.3 679.7,511.3 680.2,511.3 680.7,511.3 681.2,511.3 681.7,511.3 682.2,511.3 682.7,511.3 683.2,511.3 683.7,511.3 684.2,511.3 684.7,511.3 685.2,511.3 685.7,511.3 686.2,511.3 686.7,511.3 687.2,511.3 687.7,511.3 688.2,511.3 688.7,511.3 689.2,511.3 689.7,511.3 690.2,511.3 690.7,511.3 691.2,511.3 691.7,511.3 692.2,511.3 692.7,511.3 693.2,511.3 693.7,511.3 694.2,511.3 694.7,511.3 695.2,511.3 695.7,511.3 696.2,511.3 696.7,511.3 697.2,511.3 697.7,511.3 698.2,511.3 698.7,511.3 699.2,511.3 699.7,511.3 700.2,511.3 700.7,511.3 701.2,511.3 701.7,511.3 702.2,511.3 702.7,511.2 703.2,511.2 703.7,511.2 704.2,511.2 704.7,511.2 705.2,511.1 705.7,511.1 706.2,511.1 706.7,511.0 707.2,511.0 707.7,511.0 708.2,510.9 708.7,510.9 709.2,510.8 709.7,510.8 710.2,510.8 710.7,510.7 711.2,510.7 711.7,510.6 712.2,510.6 712.7,510.5 713.2,510.5 713.7,510.4 714.2,510.3 714.7,510.3 715.2,510.2 715.7,510.2 716.2,510.1 716.7,510.0 717.2,510.0 717.7,509.9 718.2,509.8 718.7,509.8 719.2,509.7 719.7,509.6 720.2,509.6 720.7,509.5 721.2,509.4 721.7,509.4 722.2,509.2 722.7,509.1 723.2,509.0 723.7,508.8 724.2,508.6 724.7,508.4 725.2,508.2 725.7,508.0 726.2,507.9 726.7,507.7 727.2,507.5 727.7,507.4 728.2,507.3 728.7,507.2 729.2,507.2 729.7,507.1 730.2,507.1 730.7,507.0 731.2,507.0 731.7,506.9 732.2,506.9 732.7,506.9 733.2,506.8 733.7,506.8 734.2,506.8 734.7,506.8 735.2,506.7 735.7,506.7 736.2,506.7 736.7,506.7 737.2,506.6 737.7,506.6 738.2,506.6 738.7,506.6 739.2,506.5 739.7,506.5 740.2,506.4 740.7,506.4 741.2,506.3 741.7,506.3 742.2,506.2 742.7,506.1 743.2,506.0 743.7,505.9 744.2,505.9 744.7,505.8 745.2,505.7 745.7,505.6 746.2,505.5 746.7,505.5 747.2,505.4 747.7,505.4 748.2,505.4 748.7,505.4 749.2,505.4 749.7,505.4 750.2,505.4 750.7,505.4 751.2,505.4 751.7,505.4 752.2,505.4 752.7,505.4 753.2,505.4 753.7,505.4 754.2,505.4 754.7,505.4 755.2,505.4 755.7,505.4 756.2,505.5 756.7,505.7 757.2,506.0 757.7,506.3 758.2,506.7 758.7,507.0 759.2,507.3 759.7,507.5 760.2,507.5 760.7,507.4 761.2,507.3 761.7,507.1 762.2,506.9 762.7,506.6 763.2,506.2 763.7,505.9 764.2,505.6 764.7,505.3 765.2,505.0 765.7,504.7 766.2,504.5 766.7,504.3 767.2,504.2 767.7,504.2 768.2,504.3 768.7,504.6 769.2,505.0 769.7,505.4 770.2,505.8 770.7,506.2 771.2,506.6 771.7,506.9 772.2,507.1 772.7,507.2 773.2,507.2 773.7,507.2 774.2,507.1 774.7,507.1 775.2,507.0 775.7,507.0 776.2,506.9 776.7,506.8 777.2,506.7 777.7,506.6 778.2,506.5 778.7,506.4 779.2,506.3 779.7,506.1 780.2,506.0 780.7,505.9 781.2,505.7 781.7,505.6 782.2,505.5 782.7,505.3 783.2,505.1 783.7,504.9 784.2,504.7 784.7,504.4 785.2,504.1 785.7,503.8 786.2,503.5 786.7,503.1 787.2,502.8 787.7,502.4 788.2,502.0 788.7,501.6 789.2,501.3 789.7,500.9 790.2,500.5 790.7,500.1 791.2,499.8 791.7,499.4 792.2,499.0 792.7,498.7 793.2,498.3 793.7,497.9 794.2,497.5 794.7,497.1 795.2,496.7 795.7,496.3 796.2,495.9 796.7,495.5 797.2,495.1 797.7,494.7 798.2,494.3 798.7,493.9 799.2,493.5 799.7,493.0 800.2,492.5 800.7,492.0 801.2,491.5 801.7,491.0 802.2,490.6 802.7,490.3 803.2,490.1 803.7,490.0 804.2,490.4 804.7,491.4 805.2,492.8 805.7,494.3 806.2,495.6 806.7,496.5 807.2,496.8 807.7,496.9 808.2,496.9 808.7,497.0 809.2,497.0 809.7,497.1 810.2,497.1 810.7,497.2 811.2,497.2 811.7,497.3 812.2,497.3 812.7,497.4 813.2,497.7 813.7,498.4 814.2,499.4 814.7,500.7 815.2,502.2 815.7,503.6 816.2,504.9 816.7,505.9 817.2,506.9 817.7,507.9 818.2,508.9 818.7,509.7 819.2,510.3 819.7,510.4 820.2,510.4 820.7,510.4 821.2,510.4 821.7,510.4 822.2,510.4 822.7,510.4 823.2,510.4 823.7,510.4 824.2,510.4 824.7,510.4 825.2,510.4 825.7,510.4 826.2,510.4 826.7,510.4 827.2,510.4 827.7,510.4 828.2,510.4 828.7,510.4 829.2,510.4 829.7,510.4 830.2,510.4 830.7,510.4 831.2,510.4 831.7,510.4 832.2,510.4 832.7,510.4 833.2,510.4 833.7,510.4 834.2,510.4 834.7,510.4 835.2,510.4 835.7,510.4 836.2,510.4 836.7,510.4 837.2,510.4 837.7,510.4 838.2,510.4 838.7,510.4 839.2,510.4 839.7,510.4 840.2,510.4 840.7,510.4 841.2,510.4 841.7,510.4 842.2,510.4 842.7,510.4 843.2,510.4 843.7,510.4 844.2,510.4 844.7,510.4 845.2,510.4 845.7,510.4 846.2,510.4 846.7,510.4 847.2,510.4 847.7,510.4 848.2,510.4 848.7,510.4 849.2,510.3 849.7,510.3 850.2,510.2 850.7,510.2 851.2,510.1 851.7,510.0 852.2,509.9 852.7,509.8 853.2,509.7 853.7,509.6 854.2,509.4 854.7,509.3 855.2,509.2 855.7,509.0 856.2,508.9 856.7,508.7 857.2,508.6 857.7,508.5 858.2,508.3 858.7,508.2 859.2,508.0 859.7,507.8 860.2,507.6 860.7,507.3 861.2,507.0 861.7,506.8 862.2,506.5 862.7,506.3 863.2,506.0 863.7,505.8 864.2,505.7 864.7,505.5 865.2,505.4 865.7,505.4 866.2,505.4 866.7,505.4 867.2,505.4 867.7,505.4 868.2,505.4 868.7,505.4 869.2,505.4 869.7,505.4 870.2,505.6 870.7,505.9 871.2,506.3 871.7,506.9 872.2,507.4 872.7,508.0 873.2,508.6 873.7,509.1 874.2,509.6 874.7,509.9 875.2,510.1 875.7,510.1 876.2,510.1 876.7,510.1 877.2,510.2 877.7,510.2 878.2,510.2 878.7,510.2 879.2,510.2 879.7,510.2 880.2,510.2 880.7,510.3 881.2,510.3 881.7,510.3 882.2,510.3 882.7,510.3 883.2,510.3 883.7,510.3 884.2,510.3 884.7,510.3 885.2,510.3 885.7,510.3 886.2,510.3 886.7,510.4 887.2,510.4 887.7,510.4 888.2,510.4 888.7,510.4 889.2,510.4 889.7,510.4 890.2,510.4 890.7,510.4 891.2,510.4 891.7,510.4 892.2,510.4 892.7,510.4 893.2,510.4 893.7,510.4 894.2,510.4 894.7,510.4 895.2,510.4" fill="none" stroke="#747474" stroke-width="5.2" stroke-linejoin="round" stroke-linecap="round"/>
<line x1="1805.5" y1="292.5" x2="1961" y2="292.5" stroke="#C37AE4" stroke-width="11"/>
<circle cx="1805.5" cy="292.5" r="5.5" fill="#C37AE4"/>
<line x1="1805.5" y1="379.5" x2="1961" y2="379.5" stroke="#00B069" stroke-width="11"/>
<circle cx="1805.5" cy="379.5" r="5.5" fill="#00B069"/>
<line x1="1805.5" y1="466" x2="1961" y2="466" stroke="#0071E4" stroke-width="11"/>
<circle cx="1805.5" cy="466" r="5.5" fill="#0071E4"/>
<line x1="1805.5" y1="552.5" x2="1961" y2="552.5" stroke="#FF4040" stroke-width="11"/>
<circle cx="1805.5" cy="552.5" r="5.5" fill="#FF4040"/>
<line x1="663.8" y1="115.5" x2="719.3" y2="115.5" stroke="#747474" stroke-width="5.2" stroke-linecap="round"/>
</g>
<g>
<text x="176.0" y="1544.7" font-size="62" font-weight="bold" text-anchor="middle" textLength="32.1" lengthAdjust="spacingAndGlyphs">5</text>
<text x="561.4" y="1544.7" font-size="62" font-weight="bold" text-anchor="middle" textLength="64.1" lengthAdjust="spacingAndGlyphs">10</text>
<text x="946.8" y="1544.7" font-size="62" font-weight="bold" text-anchor="middle" textLength="64.1" lengthAdjust="spacingAndGlyphs">15</text>
<text x="1332.2" y="1544.7" font-size="62" font-weight="bold" text-anchor="middle" textLength="64.1" lengthAdjust="spacingAndGlyphs">20</text>
<text x="1717.6" y="1544.7" font-size="62" font-weight="bold" text-anchor="middle" textLength="64.1" lengthAdjust="spacingAndGlyphs">25</text>
<text x="2103.0" y="1544.7" font-size="62" font-weight="bold" text-anchor="middle" textLength="64.1" lengthAdjust="spacingAndGlyphs">30</text>
<text x="1140" y="1663" font-size="72" font-weight="bold" text-anchor="middle" textLength="437.6" lengthAdjust="spacingAndGlyphs">2theta (deg.)</text>
<text transform="translate(85.6,737.7) rotate(-90)" font-size="73" font-weight="bold" text-anchor="middle" textLength="614" lengthAdjust="spacingAndGlyphs">Intensity (counts)</text>
<text x="1980" y="317.7" font-size="70" font-weight="bold" text-anchor="start" textLength="81.8" lengthAdjust="spacingAndGlyphs">S4</text>
<text x="1980" y="404.7" font-size="70" font-weight="bold" text-anchor="start" textLength="81.8" lengthAdjust="spacingAndGlyphs">S3</text>
<text x="1980" y="491.2" font-size="70" font-weight="bold" text-anchor="start" textLength="81.8" lengthAdjust="spacingAndGlyphs">S2</text>
<text x="1980" y="577.7" font-size="70" font-weight="bold" text-anchor="start" textLength="81.8" lengthAdjust="spacingAndGlyphs">S1</text>
<text x="270.5" y="612.7" font-size="27.5" font-weight="normal" text-anchor="middle" textLength="13.2" lengthAdjust="spacingAndGlyphs" stroke="#000" stroke-width="0.3">5</text>
<text x="395.5" y="612.7" font-size="27.5" font-weight="normal" text-anchor="middle" textLength="26.3" lengthAdjust="spacingAndGlyphs" stroke="#000" stroke-width="0.3">10</text>
<text x="520.5" y="612.7" font-size="27.5" font-weight="normal" text-anchor="middle" textLength="26.3" lengthAdjust="spacingAndGlyphs" stroke="#000" stroke-width="0.3">15</text>
<text x="645.5" y="612.7" font-size="27.5" font-weight="normal" text-anchor="middle" textLength="26.3" lengthAdjust="spacingAndGlyphs" stroke="#000" stroke-width="0.3">20</text>
<text x="770.5" y="612.7" font-size="27.5" font-weight="normal" text-anchor="middle" textLength="26.3" lengthAdjust="spacingAndGlyphs" stroke="#000" stroke-width="0.3">25</text>
<text x="895.5" y="612.7" font-size="27.5" font-weight="normal" text-anchor="middle" textLength="26.3" lengthAdjust="spacingAndGlyphs" stroke="#000" stroke-width="0.3">30</text>
<text x="583.2" y="657.4" font-size="25.3" font-weight="normal" text-anchor="middle" textLength="153.3" lengthAdjust="spacingAndGlyphs" stroke="#000" stroke-width="0.9">2 theta (deg.)</text>
<text transform="translate(230.3,321.6) rotate(-90)" font-size="28.4" text-anchor="middle" stroke="#000" stroke-width="0.3" textLength="224.7" lengthAdjust="spacingAndGlyphs">Intensity (counts)</text>
<text x="727" y="126" font-size="27.6" font-weight="normal" text-anchor="start" textLength="149.1" lengthAdjust="spacingAndGlyphs" stroke="#000" stroke-width="0.3">Levofloxacin</text>
<text x="311.20000000000005" y="99" font-size="21.5" font-weight="bold" text-anchor="middle" textLength="39.2" lengthAdjust="spacingAndGlyphs">6.7°</text>
<text x="395.05" y="462.5" font-size="21.5" font-weight="bold" text-anchor="middle" textLength="39.2" lengthAdjust="spacingAndGlyphs">9.6°</text>
<text x="491.0" y="448.4" font-size="21.5" font-weight="bold" text-anchor="middle" textLength="48.8" lengthAdjust="spacingAndGlyphs">13.1°</text>
<text x="663.95" y="458.8" font-size="21.5" font-weight="bold" text-anchor="middle" textLength="48.8" lengthAdjust="spacingAndGlyphs">20.1°</text>
<text x="812.3499999999999" y="464" font-size="21.5" font-weight="bold" text-anchor="middle" textLength="48.8" lengthAdjust="spacingAndGlyphs">26.4°</text>
</g>
</svg>
</body></html>
